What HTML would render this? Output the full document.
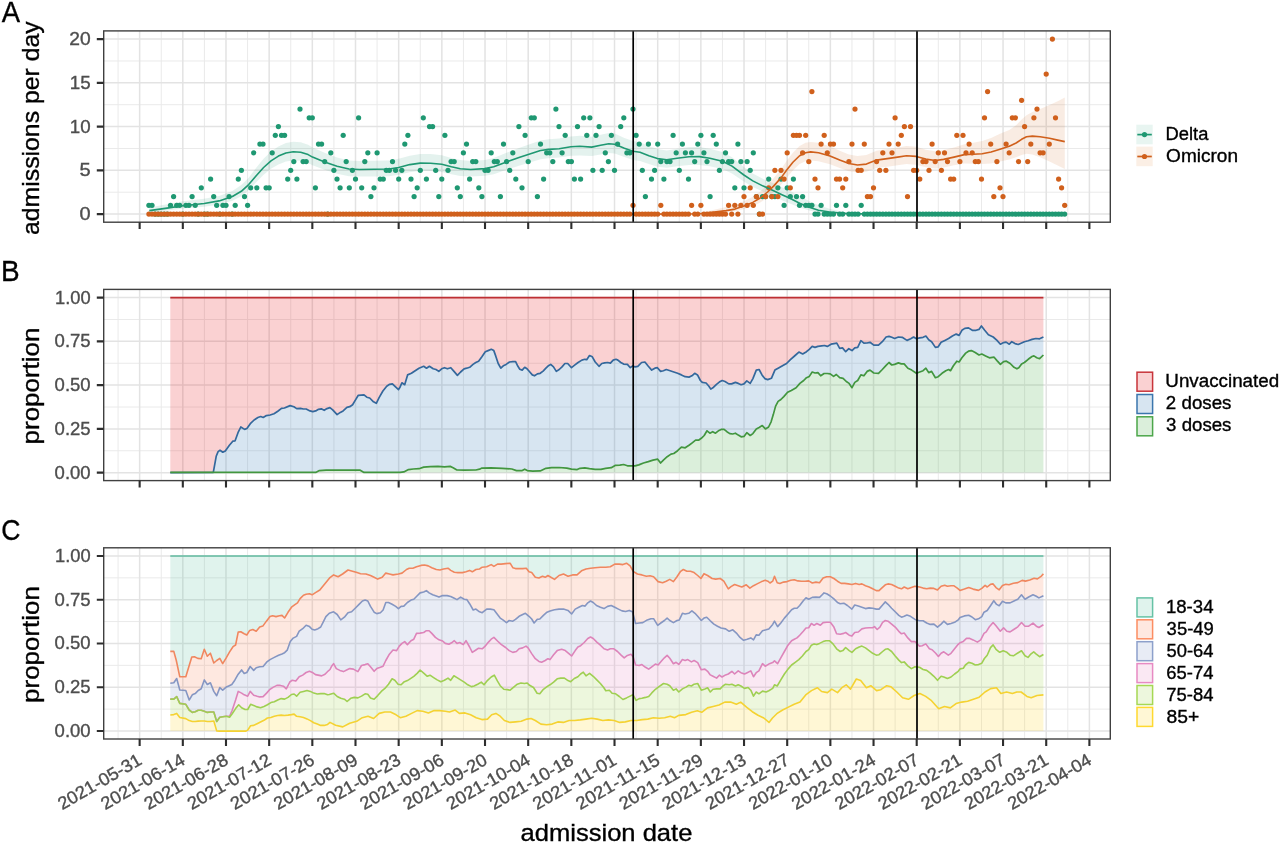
<!DOCTYPE html>
<html lang="en"><head><meta charset="utf-8"><title>Admissions by variant, vaccination status and age</title>
<style>html,body{margin:0;padding:0;background:#fff}body{width:1280px;height:844px;overflow:hidden}svg{display:block}text{stroke-width:.35px;paint-order:stroke fill}.tk text,text.tk{stroke:#4d4d4d}text.bk,.bk text{stroke:#000}</style>
</head><body>
<svg width="1280" height="844" viewBox="0 0 1280 844" font-family='"Liberation Sans", "DejaVu Sans", sans-serif'>
<rect width="1280" height="844" fill="#fff"/>
<g id="panelA">
<clipPath id="clipA"><rect x="103.7" y="30.9" width="1006.6" height="191.3"/></clipPath>
<path d="M118.06 30.9V222.2M161.24 30.9V222.2M204.41 30.9V222.2M247.58 30.9V222.2M290.75 30.9V222.2M333.92 30.9V222.2M377.09 30.9V222.2M420.25 30.9V222.2M463.43 30.9V222.2M506.6 30.9V222.2M549.76 30.9V222.2M592.94 30.9V222.2M636.11 30.9V222.2M679.27 30.9V222.2M722.45 30.9V222.2M765.62 30.9V222.2M808.78 30.9V222.2M851.96 30.9V222.2M895.12 30.9V222.2M938.29 30.9V222.2M981.47 30.9V222.2M1024.63 30.9V222.2M1067.81 30.9V222.2M103.7 192.22H1110.3M103.7 148.47H1110.3M103.7 104.72H1110.3M103.7 60.97H1110.3" stroke="#eaeaea" stroke-width="1" fill="none"/>
<path d="M139.65 30.9V222.2M182.82 30.9V222.2M225.99 30.9V222.2M269.16 30.9V222.2M312.33 30.9V222.2M355.5 30.9V222.2M398.67 30.9V222.2M441.84 30.9V222.2M485.01 30.9V222.2M528.18 30.9V222.2M571.35 30.9V222.2M614.52 30.9V222.2M657.69 30.9V222.2M700.86 30.9V222.2M744.03 30.9V222.2M787.2 30.9V222.2M830.37 30.9V222.2M873.54 30.9V222.2M916.71 30.9V222.2M959.88 30.9V222.2M1003.05 30.9V222.2M1046.22 30.9V222.2M1089.39 30.9V222.2M103.7 214.1H1110.3M103.7 170.35H1110.3M103.7 126.6H1110.3M103.7 82.85H1110.3M103.7 39.1H1110.3" stroke="#e3e3e3" stroke-width="1.5" fill="none"/>
<g clip-path="url(#clipA)">
<path d="M149.3 207.5L167.1 204.2L183 201.3L204.2 198.8L219.1 195.9L232.4 190.9L241.3 185.1L248.7 177.7L256.2 167.8L263.6 158.8L271 151.6L278.4 146.4L285.9 143.1L293.3 141.7L300.7 142.2L308.1 144.8L312.5 147.5L324.6 152.8L337.1 157.5L349 160.5L359.4 161L374.2 160.8L389.1 160.5L398.7 158.8L409.8 155.7L420.2 154L430.6 154.1L441.8 155.3L451.4 158.1L460.3 160.1L470.7 161L485 160L493.7 158.1L506.5 152.8L519 148L528.2 144.7L540.5 140.4L548.7 139.2L559.1 138.4L570.9 136.4L579.8 135.8L591.7 136.7L600.6 134.7L608.8 133.1L614.7 133.6L624.4 137.9L633 141.1L640 142.3L648.9 146L657.5 149.1L666.7 150.4L677.1 148.7L689 147.1L699.4 147L709.8 148.7L722.4 151.9L732 157.3L743.9 167L752.8 173.6L763.2 179L773.6 183.3L782.5 187.4L789.9 190.7L799.6 196.2L809.2 201.1L818.5 205.2L829.5 208.7L847.1 212.8L880 213.8L1064.8 214.1L1064.8 214.1L880 214.1L847.1 213.9L829.5 213.3L818.5 212.4L809.2 210.4L799.6 207.5L789.9 203.4L782.5 200.5L773.6 196.5L763.2 191.8L752.8 186.9L743.9 181.6L732 173.5L722.4 169.1L709.8 166.3L699.4 164.9L689 165L677.1 166.3L666.7 167.8L657.5 166.7L648.9 164L640 160.9L633 159.9L624.4 157.1L614.7 153.4L608.8 153.1L600.6 154.4L591.7 156.1L579.8 155.4L570.9 155.8L559.1 157.6L548.7 158.2L540.5 159.2L528.2 162.9L519 165.8L506.5 169.8L493.7 174.2L485 175.8L470.7 176.6L460.3 175.9L451.4 174.2L441.8 171.9L430.6 170.9L420.2 170.8L409.8 172.2L398.7 174.8L389.1 176.2L374.2 176.5L359.4 176.6L349 176.2L337.1 173.7L324.6 169.8L312.5 165.3L308.1 163L300.7 160.8L293.3 160.4L285.9 161.6L278.4 164.4L271 168.8L263.6 174.8L256.2 182.2L248.7 190.2L241.3 196.2L232.4 200.8L219.1 204.6L204.2 206.8L183 208.6L167.1 210.5L149.3 212.2Z" fill="#1f9872" fill-opacity="0.12"/>
<path d="M149.3 214.1L640 214.1L680 213.9L699.4 213.2L714.2 209.7L726.1 207.1L735 205.1L743.9 201.2L752.8 196.8L760.2 191.6L767.6 184.8L773.6 178.3L781 169.3L786.9 160.6L792.9 152.7L799.6 146L805.5 142.7L810.7 141.9L818.5 142.7L830 146.2L839.7 150.8L848.9 154.5L857.5 156.1L866.4 155.1L876.6 150.8L887.2 149.1L897.6 147.5L906.5 146L916.1 146.7L925.8 149.7L935.3 151.2L943.6 150L954 147.5L964.4 144.2L973.3 142.7L982.2 141.1L991.1 138.1L1000 133.8L1009.3 130L1016.1 125.2L1021.6 119.6L1026.5 115.2L1032.4 112L1040.1 109L1049.5 105L1057.7 101.3L1064.8 97.4L1064.8 169.1L1057.7 165.6L1049.5 161.4L1040.1 157.3L1032.4 154.5L1026.5 153.7L1021.6 154.9L1016.1 157.2L1009.3 159.4L1000 161.6L991.1 163.4L982.2 164.1L973.3 163.8L964.4 163.4L954 165.3L943.6 167.4L935.3 168.4L925.8 167.2L916.1 164.7L906.5 164L897.6 165.3L887.2 166.7L876.6 168.1L866.4 171.7L857.5 172.5L848.9 171.2L839.7 168.1L830 164.2L818.5 161.3L810.7 160.5L805.5 161.3L799.6 164.1L792.9 170.4L786.9 177.4L781 184.8L773.6 192.2L767.6 197.4L760.2 202.6L752.8 206.2L743.9 209.1L735 211.3L726.1 212.3L714.2 213.2L699.4 213.9L680 214.1L640 214.1L149.3 214.1Z" fill="#d0601c" fill-opacity="0.12"/>
<g fill="#1f9872">
<circle cx="148.9" cy="205.3" r="2.6"/>
<circle cx="152" cy="205.3" r="2.6"/>
<circle cx="155.1" cy="214.1" r="2.6"/>
<circle cx="158.2" cy="214.1" r="2.6"/>
<circle cx="161.2" cy="214.1" r="2.6"/>
<circle cx="164.3" cy="214.1" r="2.6"/>
<circle cx="167.4" cy="214.1" r="2.6"/>
<circle cx="170.5" cy="205.3" r="2.6"/>
<circle cx="173.6" cy="196.6" r="2.6"/>
<circle cx="176.7" cy="205.3" r="2.6"/>
<circle cx="179.7" cy="205.3" r="2.6"/>
<circle cx="182.8" cy="214.1" r="2.6"/>
<circle cx="185.9" cy="205.3" r="2.6"/>
<circle cx="189" cy="205.3" r="2.6"/>
<circle cx="192.1" cy="196.6" r="2.6"/>
<circle cx="195.2" cy="205.3" r="2.6"/>
<circle cx="198.2" cy="214.1" r="2.6"/>
<circle cx="201.3" cy="187.8" r="2.6"/>
<circle cx="204.4" cy="214.1" r="2.6"/>
<circle cx="207.5" cy="214.1" r="2.6"/>
<circle cx="210.6" cy="179.1" r="2.6"/>
<circle cx="213.7" cy="196.6" r="2.6"/>
<circle cx="216.7" cy="205.3" r="2.6"/>
<circle cx="219.8" cy="214.1" r="2.6"/>
<circle cx="222.9" cy="205.3" r="2.6"/>
<circle cx="226" cy="205.3" r="2.6"/>
<circle cx="229.1" cy="196.6" r="2.6"/>
<circle cx="232.2" cy="214.1" r="2.6"/>
<circle cx="235.2" cy="205.3" r="2.6"/>
<circle cx="238.3" cy="179.1" r="2.6"/>
<circle cx="241.4" cy="170.3" r="2.6"/>
<circle cx="244.5" cy="196.6" r="2.6"/>
<circle cx="247.6" cy="205.3" r="2.6"/>
<circle cx="250.7" cy="187.8" r="2.6"/>
<circle cx="253.7" cy="152.8" r="2.6"/>
<circle cx="256.8" cy="187.8" r="2.6"/>
<circle cx="259.9" cy="144.1" r="2.6"/>
<circle cx="263" cy="144.1" r="2.6"/>
<circle cx="266.1" cy="187.8" r="2.6"/>
<circle cx="269.2" cy="187.8" r="2.6"/>
<circle cx="272.2" cy="152.8" r="2.6"/>
<circle cx="275.3" cy="135.3" r="2.6"/>
<circle cx="278.4" cy="126.6" r="2.6"/>
<circle cx="281.5" cy="135.3" r="2.6"/>
<circle cx="284.6" cy="135.3" r="2.6"/>
<circle cx="287.7" cy="179.1" r="2.6"/>
<circle cx="290.7" cy="170.3" r="2.6"/>
<circle cx="293.8" cy="161.6" r="2.6"/>
<circle cx="296.9" cy="179.1" r="2.6"/>
<circle cx="300" cy="109.1" r="2.6"/>
<circle cx="303.1" cy="161.6" r="2.6"/>
<circle cx="306.2" cy="161.6" r="2.6"/>
<circle cx="309.2" cy="117.8" r="2.6"/>
<circle cx="312.3" cy="117.8" r="2.6"/>
<circle cx="315.4" cy="187.8" r="2.6"/>
<circle cx="318.5" cy="144.1" r="2.6"/>
<circle cx="321.6" cy="144.1" r="2.6"/>
<circle cx="324.7" cy="161.6" r="2.6"/>
<circle cx="327.7" cy="214.1" r="2.6"/>
<circle cx="330.8" cy="152.8" r="2.6"/>
<circle cx="333.9" cy="170.3" r="2.6"/>
<circle cx="337" cy="179.1" r="2.6"/>
<circle cx="340.1" cy="187.8" r="2.6"/>
<circle cx="343.2" cy="135.3" r="2.6"/>
<circle cx="346.2" cy="161.6" r="2.6"/>
<circle cx="349.3" cy="187.8" r="2.6"/>
<circle cx="352.4" cy="170.3" r="2.6"/>
<circle cx="355.5" cy="179.1" r="2.6"/>
<circle cx="358.6" cy="117.8" r="2.6"/>
<circle cx="361.7" cy="187.8" r="2.6"/>
<circle cx="364.8" cy="161.6" r="2.6"/>
<circle cx="367.8" cy="152.8" r="2.6"/>
<circle cx="370.9" cy="196.6" r="2.6"/>
<circle cx="374" cy="187.8" r="2.6"/>
<circle cx="377.1" cy="152.8" r="2.6"/>
<circle cx="380.2" cy="179.1" r="2.6"/>
<circle cx="383.3" cy="179.1" r="2.6"/>
<circle cx="386.3" cy="170.3" r="2.6"/>
<circle cx="389.4" cy="170.3" r="2.6"/>
<circle cx="392.5" cy="161.6" r="2.6"/>
<circle cx="395.6" cy="170.3" r="2.6"/>
<circle cx="398.7" cy="179.1" r="2.6"/>
<circle cx="401.8" cy="170.3" r="2.6"/>
<circle cx="404.8" cy="144.1" r="2.6"/>
<circle cx="407.9" cy="135.3" r="2.6"/>
<circle cx="411" cy="179.1" r="2.6"/>
<circle cx="414.1" cy="196.6" r="2.6"/>
<circle cx="417.2" cy="187.8" r="2.6"/>
<circle cx="420.3" cy="170.3" r="2.6"/>
<circle cx="423.3" cy="117.8" r="2.6"/>
<circle cx="426.4" cy="179.1" r="2.6"/>
<circle cx="429.5" cy="126.6" r="2.6"/>
<circle cx="432.6" cy="126.6" r="2.6"/>
<circle cx="435.7" cy="170.3" r="2.6"/>
<circle cx="438.8" cy="196.6" r="2.6"/>
<circle cx="441.8" cy="179.1" r="2.6"/>
<circle cx="444.9" cy="135.3" r="2.6"/>
<circle cx="448" cy="170.3" r="2.6"/>
<circle cx="451.1" cy="161.6" r="2.6"/>
<circle cx="454.2" cy="161.6" r="2.6"/>
<circle cx="457.3" cy="187.8" r="2.6"/>
<circle cx="460.3" cy="196.6" r="2.6"/>
<circle cx="463.4" cy="152.8" r="2.6"/>
<circle cx="466.5" cy="144.1" r="2.6"/>
<circle cx="469.6" cy="179.1" r="2.6"/>
<circle cx="472.7" cy="161.6" r="2.6"/>
<circle cx="475.8" cy="161.6" r="2.6"/>
<circle cx="478.8" cy="187.8" r="2.6"/>
<circle cx="481.9" cy="196.6" r="2.6"/>
<circle cx="485" cy="170.3" r="2.6"/>
<circle cx="488.1" cy="170.3" r="2.6"/>
<circle cx="491.2" cy="152.8" r="2.6"/>
<circle cx="494.3" cy="161.6" r="2.6"/>
<circle cx="497.3" cy="161.6" r="2.6"/>
<circle cx="500.4" cy="196.6" r="2.6"/>
<circle cx="503.5" cy="144.1" r="2.6"/>
<circle cx="506.6" cy="161.6" r="2.6"/>
<circle cx="509.7" cy="170.3" r="2.6"/>
<circle cx="512.8" cy="152.8" r="2.6"/>
<circle cx="515.8" cy="179.1" r="2.6"/>
<circle cx="518.9" cy="126.6" r="2.6"/>
<circle cx="522" cy="187.8" r="2.6"/>
<circle cx="525.1" cy="135.3" r="2.6"/>
<circle cx="528.2" cy="161.6" r="2.6"/>
<circle cx="531.3" cy="117.8" r="2.6"/>
<circle cx="534.3" cy="117.8" r="2.6"/>
<circle cx="537.4" cy="196.6" r="2.6"/>
<circle cx="540.5" cy="144.1" r="2.6"/>
<circle cx="543.6" cy="179.1" r="2.6"/>
<circle cx="546.7" cy="152.8" r="2.6"/>
<circle cx="549.8" cy="152.8" r="2.6"/>
<circle cx="552.8" cy="161.6" r="2.6"/>
<circle cx="555.9" cy="109.1" r="2.6"/>
<circle cx="559" cy="126.6" r="2.6"/>
<circle cx="562.1" cy="152.8" r="2.6"/>
<circle cx="565.2" cy="135.3" r="2.6"/>
<circle cx="568.3" cy="161.6" r="2.6"/>
<circle cx="571.4" cy="161.6" r="2.6"/>
<circle cx="574.4" cy="179.1" r="2.6"/>
<circle cx="577.5" cy="126.6" r="2.6"/>
<circle cx="580.6" cy="179.1" r="2.6"/>
<circle cx="583.7" cy="117.8" r="2.6"/>
<circle cx="586.8" cy="135.3" r="2.6"/>
<circle cx="589.9" cy="117.8" r="2.6"/>
<circle cx="592.9" cy="170.3" r="2.6"/>
<circle cx="596" cy="135.3" r="2.6"/>
<circle cx="599.1" cy="126.6" r="2.6"/>
<circle cx="602.2" cy="170.3" r="2.6"/>
<circle cx="605.3" cy="152.8" r="2.6"/>
<circle cx="608.4" cy="161.6" r="2.6"/>
<circle cx="611.4" cy="135.3" r="2.6"/>
<circle cx="614.5" cy="170.3" r="2.6"/>
<circle cx="617.6" cy="144.1" r="2.6"/>
<circle cx="620.7" cy="126.6" r="2.6"/>
<circle cx="623.8" cy="117.8" r="2.6"/>
<circle cx="626.9" cy="152.8" r="2.6"/>
<circle cx="629.9" cy="152.8" r="2.6"/>
<circle cx="633" cy="109.1" r="2.6"/>
<circle cx="636.1" cy="135.3" r="2.6"/>
<circle cx="639.2" cy="144.1" r="2.6"/>
<circle cx="642.3" cy="170.3" r="2.6"/>
<circle cx="645.4" cy="196.6" r="2.6"/>
<circle cx="648.4" cy="144.1" r="2.6"/>
<circle cx="651.5" cy="179.1" r="2.6"/>
<circle cx="654.6" cy="170.3" r="2.6"/>
<circle cx="657.7" cy="144.1" r="2.6"/>
<circle cx="660.8" cy="161.6" r="2.6"/>
<circle cx="663.9" cy="179.1" r="2.6"/>
<circle cx="666.9" cy="161.6" r="2.6"/>
<circle cx="670" cy="161.6" r="2.6"/>
<circle cx="673.1" cy="135.3" r="2.6"/>
<circle cx="676.2" cy="152.8" r="2.6"/>
<circle cx="679.3" cy="170.3" r="2.6"/>
<circle cx="682.4" cy="144.1" r="2.6"/>
<circle cx="685.4" cy="152.8" r="2.6"/>
<circle cx="688.5" cy="179.1" r="2.6"/>
<circle cx="691.6" cy="152.8" r="2.6"/>
<circle cx="694.7" cy="161.6" r="2.6"/>
<circle cx="697.8" cy="144.1" r="2.6"/>
<circle cx="700.9" cy="135.3" r="2.6"/>
<circle cx="703.9" cy="152.8" r="2.6"/>
<circle cx="707" cy="161.6" r="2.6"/>
<circle cx="710.1" cy="196.6" r="2.6"/>
<circle cx="713.2" cy="135.3" r="2.6"/>
<circle cx="716.3" cy="144.1" r="2.6"/>
<circle cx="719.4" cy="170.3" r="2.6"/>
<circle cx="722.4" cy="161.6" r="2.6"/>
<circle cx="725.5" cy="152.8" r="2.6"/>
<circle cx="728.6" cy="161.6" r="2.6"/>
<circle cx="731.7" cy="161.6" r="2.6"/>
<circle cx="734.8" cy="187.8" r="2.6"/>
<circle cx="737.9" cy="144.1" r="2.6"/>
<circle cx="740.9" cy="161.6" r="2.6"/>
<circle cx="744" cy="187.8" r="2.6"/>
<circle cx="747.1" cy="161.6" r="2.6"/>
<circle cx="750.2" cy="170.3" r="2.6"/>
<circle cx="753.3" cy="152.8" r="2.6"/>
<circle cx="756.4" cy="196.6" r="2.6"/>
<circle cx="759.4" cy="214.1" r="2.6"/>
<circle cx="762.5" cy="196.6" r="2.6"/>
<circle cx="765.6" cy="196.6" r="2.6"/>
<circle cx="768.7" cy="179.1" r="2.6"/>
<circle cx="771.8" cy="196.6" r="2.6"/>
<circle cx="774.9" cy="196.6" r="2.6"/>
<circle cx="777.9" cy="187.8" r="2.6"/>
<circle cx="781" cy="179.1" r="2.6"/>
<circle cx="784.1" cy="205.3" r="2.6"/>
<circle cx="787.2" cy="187.8" r="2.6"/>
<circle cx="790.3" cy="196.6" r="2.6"/>
<circle cx="793.4" cy="179.1" r="2.6"/>
<circle cx="796.5" cy="196.6" r="2.6"/>
<circle cx="799.5" cy="205.3" r="2.6"/>
<circle cx="802.6" cy="196.6" r="2.6"/>
<circle cx="805.7" cy="205.3" r="2.6"/>
<circle cx="808.8" cy="205.3" r="2.6"/>
<circle cx="811.9" cy="205.3" r="2.6"/>
<circle cx="815" cy="214.1" r="2.6"/>
<circle cx="818" cy="214.1" r="2.6"/>
<circle cx="821.1" cy="205.3" r="2.6"/>
<circle cx="824.2" cy="214.1" r="2.6"/>
<circle cx="827.3" cy="214.1" r="2.6"/>
<circle cx="830.4" cy="214.1" r="2.6"/>
<circle cx="833.5" cy="214.1" r="2.6"/>
<circle cx="836.5" cy="205.3" r="2.6"/>
<circle cx="839.6" cy="214.1" r="2.6"/>
<circle cx="842.7" cy="214.1" r="2.6"/>
<circle cx="845.8" cy="205.3" r="2.6"/>
<circle cx="848.9" cy="214.1" r="2.6"/>
<circle cx="852" cy="214.1" r="2.6"/>
<circle cx="855" cy="214.1" r="2.6"/>
<circle cx="858.1" cy="214.1" r="2.6"/>
<circle cx="861.2" cy="205.3" r="2.6"/>
<circle cx="864.3" cy="214.1" r="2.6"/>
<circle cx="867.4" cy="214.1" r="2.6"/>
<circle cx="870.5" cy="214.1" r="2.6"/>
<circle cx="873.5" cy="214.1" r="2.6"/>
<circle cx="876.6" cy="214.1" r="2.6"/>
<circle cx="879.7" cy="214.1" r="2.6"/>
<circle cx="882.8" cy="214.1" r="2.6"/>
<circle cx="885.9" cy="214.1" r="2.6"/>
<circle cx="889" cy="214.1" r="2.6"/>
<circle cx="892" cy="214.1" r="2.6"/>
<circle cx="895.1" cy="214.1" r="2.6"/>
<circle cx="898.2" cy="214.1" r="2.6"/>
<circle cx="901.3" cy="214.1" r="2.6"/>
<circle cx="904.4" cy="214.1" r="2.6"/>
<circle cx="907.5" cy="214.1" r="2.6"/>
<circle cx="910.5" cy="214.1" r="2.6"/>
<circle cx="913.6" cy="214.1" r="2.6"/>
<circle cx="916.7" cy="214.1" r="2.6"/>
<circle cx="919.8" cy="214.1" r="2.6"/>
<circle cx="922.9" cy="214.1" r="2.6"/>
<circle cx="926" cy="214.1" r="2.6"/>
<circle cx="929" cy="214.1" r="2.6"/>
<circle cx="932.1" cy="214.1" r="2.6"/>
<circle cx="935.2" cy="214.1" r="2.6"/>
<circle cx="938.3" cy="214.1" r="2.6"/>
<circle cx="941.4" cy="214.1" r="2.6"/>
<circle cx="944.5" cy="214.1" r="2.6"/>
<circle cx="947.5" cy="214.1" r="2.6"/>
<circle cx="950.6" cy="214.1" r="2.6"/>
<circle cx="953.7" cy="214.1" r="2.6"/>
<circle cx="956.8" cy="214.1" r="2.6"/>
<circle cx="959.9" cy="214.1" r="2.6"/>
<circle cx="963" cy="214.1" r="2.6"/>
<circle cx="966" cy="214.1" r="2.6"/>
<circle cx="969.1" cy="214.1" r="2.6"/>
<circle cx="972.2" cy="214.1" r="2.6"/>
<circle cx="975.3" cy="214.1" r="2.6"/>
<circle cx="978.4" cy="214.1" r="2.6"/>
<circle cx="981.5" cy="214.1" r="2.6"/>
<circle cx="984.5" cy="214.1" r="2.6"/>
<circle cx="987.6" cy="214.1" r="2.6"/>
<circle cx="990.7" cy="214.1" r="2.6"/>
<circle cx="993.8" cy="214.1" r="2.6"/>
<circle cx="996.9" cy="214.1" r="2.6"/>
<circle cx="1000" cy="214.1" r="2.6"/>
<circle cx="1003" cy="214.1" r="2.6"/>
<circle cx="1006.1" cy="214.1" r="2.6"/>
<circle cx="1009.2" cy="214.1" r="2.6"/>
<circle cx="1012.3" cy="214.1" r="2.6"/>
<circle cx="1015.4" cy="214.1" r="2.6"/>
<circle cx="1018.5" cy="214.1" r="2.6"/>
<circle cx="1021.6" cy="214.1" r="2.6"/>
<circle cx="1024.6" cy="214.1" r="2.6"/>
<circle cx="1027.7" cy="214.1" r="2.6"/>
<circle cx="1030.8" cy="214.1" r="2.6"/>
<circle cx="1033.9" cy="214.1" r="2.6"/>
<circle cx="1037" cy="214.1" r="2.6"/>
<circle cx="1040.1" cy="214.1" r="2.6"/>
<circle cx="1043.1" cy="214.1" r="2.6"/>
<circle cx="1046.2" cy="214.1" r="2.6"/>
<circle cx="1049.3" cy="214.1" r="2.6"/>
<circle cx="1052.4" cy="214.1" r="2.6"/>
<circle cx="1055.5" cy="214.1" r="2.6"/>
<circle cx="1058.6" cy="214.1" r="2.6"/>
<circle cx="1061.6" cy="214.1" r="2.6"/>
<circle cx="1064.7" cy="214.1" r="2.6"/>
</g>
<g fill="#d0601c">
<circle cx="148.9" cy="214.1" r="2.6"/>
<circle cx="152" cy="214.1" r="2.6"/>
<circle cx="155.1" cy="214.1" r="2.6"/>
<circle cx="158.2" cy="214.1" r="2.6"/>
<circle cx="161.2" cy="214.1" r="2.6"/>
<circle cx="164.3" cy="214.1" r="2.6"/>
<circle cx="167.4" cy="214.1" r="2.6"/>
<circle cx="170.5" cy="214.1" r="2.6"/>
<circle cx="173.6" cy="214.1" r="2.6"/>
<circle cx="176.7" cy="214.1" r="2.6"/>
<circle cx="179.7" cy="214.1" r="2.6"/>
<circle cx="182.8" cy="214.1" r="2.6"/>
<circle cx="185.9" cy="214.1" r="2.6"/>
<circle cx="189" cy="214.1" r="2.6"/>
<circle cx="192.1" cy="214.1" r="2.6"/>
<circle cx="195.2" cy="214.1" r="2.6"/>
<circle cx="198.2" cy="214.1" r="2.6"/>
<circle cx="201.3" cy="214.1" r="2.6"/>
<circle cx="204.4" cy="214.1" r="2.6"/>
<circle cx="207.5" cy="214.1" r="2.6"/>
<circle cx="210.6" cy="214.1" r="2.6"/>
<circle cx="213.7" cy="214.1" r="2.6"/>
<circle cx="216.7" cy="214.1" r="2.6"/>
<circle cx="219.8" cy="214.1" r="2.6"/>
<circle cx="222.9" cy="214.1" r="2.6"/>
<circle cx="226" cy="214.1" r="2.6"/>
<circle cx="229.1" cy="214.1" r="2.6"/>
<circle cx="232.2" cy="214.1" r="2.6"/>
<circle cx="235.2" cy="214.1" r="2.6"/>
<circle cx="238.3" cy="214.1" r="2.6"/>
<circle cx="241.4" cy="214.1" r="2.6"/>
<circle cx="244.5" cy="214.1" r="2.6"/>
<circle cx="247.6" cy="214.1" r="2.6"/>
<circle cx="250.7" cy="214.1" r="2.6"/>
<circle cx="253.7" cy="214.1" r="2.6"/>
<circle cx="256.8" cy="214.1" r="2.6"/>
<circle cx="259.9" cy="214.1" r="2.6"/>
<circle cx="263" cy="214.1" r="2.6"/>
<circle cx="266.1" cy="214.1" r="2.6"/>
<circle cx="269.2" cy="214.1" r="2.6"/>
<circle cx="272.2" cy="214.1" r="2.6"/>
<circle cx="275.3" cy="214.1" r="2.6"/>
<circle cx="278.4" cy="214.1" r="2.6"/>
<circle cx="281.5" cy="214.1" r="2.6"/>
<circle cx="284.6" cy="214.1" r="2.6"/>
<circle cx="287.7" cy="214.1" r="2.6"/>
<circle cx="290.7" cy="214.1" r="2.6"/>
<circle cx="293.8" cy="214.1" r="2.6"/>
<circle cx="296.9" cy="214.1" r="2.6"/>
<circle cx="300" cy="214.1" r="2.6"/>
<circle cx="303.1" cy="214.1" r="2.6"/>
<circle cx="306.2" cy="214.1" r="2.6"/>
<circle cx="309.2" cy="214.1" r="2.6"/>
<circle cx="312.3" cy="214.1" r="2.6"/>
<circle cx="315.4" cy="214.1" r="2.6"/>
<circle cx="318.5" cy="214.1" r="2.6"/>
<circle cx="321.6" cy="214.1" r="2.6"/>
<circle cx="324.7" cy="214.1" r="2.6"/>
<circle cx="327.7" cy="214.1" r="2.6"/>
<circle cx="330.8" cy="214.1" r="2.6"/>
<circle cx="333.9" cy="214.1" r="2.6"/>
<circle cx="337" cy="214.1" r="2.6"/>
<circle cx="340.1" cy="214.1" r="2.6"/>
<circle cx="343.2" cy="214.1" r="2.6"/>
<circle cx="346.2" cy="214.1" r="2.6"/>
<circle cx="349.3" cy="214.1" r="2.6"/>
<circle cx="352.4" cy="214.1" r="2.6"/>
<circle cx="355.5" cy="214.1" r="2.6"/>
<circle cx="358.6" cy="214.1" r="2.6"/>
<circle cx="361.7" cy="214.1" r="2.6"/>
<circle cx="364.8" cy="214.1" r="2.6"/>
<circle cx="367.8" cy="214.1" r="2.6"/>
<circle cx="370.9" cy="214.1" r="2.6"/>
<circle cx="374" cy="214.1" r="2.6"/>
<circle cx="377.1" cy="214.1" r="2.6"/>
<circle cx="380.2" cy="214.1" r="2.6"/>
<circle cx="383.3" cy="214.1" r="2.6"/>
<circle cx="386.3" cy="214.1" r="2.6"/>
<circle cx="389.4" cy="214.1" r="2.6"/>
<circle cx="392.5" cy="214.1" r="2.6"/>
<circle cx="395.6" cy="214.1" r="2.6"/>
<circle cx="398.7" cy="214.1" r="2.6"/>
<circle cx="401.8" cy="214.1" r="2.6"/>
<circle cx="404.8" cy="214.1" r="2.6"/>
<circle cx="407.9" cy="214.1" r="2.6"/>
<circle cx="411" cy="214.1" r="2.6"/>
<circle cx="414.1" cy="214.1" r="2.6"/>
<circle cx="417.2" cy="214.1" r="2.6"/>
<circle cx="420.3" cy="214.1" r="2.6"/>
<circle cx="423.3" cy="214.1" r="2.6"/>
<circle cx="426.4" cy="214.1" r="2.6"/>
<circle cx="429.5" cy="214.1" r="2.6"/>
<circle cx="432.6" cy="214.1" r="2.6"/>
<circle cx="435.7" cy="214.1" r="2.6"/>
<circle cx="438.8" cy="214.1" r="2.6"/>
<circle cx="441.8" cy="214.1" r="2.6"/>
<circle cx="444.9" cy="214.1" r="2.6"/>
<circle cx="448" cy="214.1" r="2.6"/>
<circle cx="451.1" cy="214.1" r="2.6"/>
<circle cx="454.2" cy="214.1" r="2.6"/>
<circle cx="457.3" cy="214.1" r="2.6"/>
<circle cx="460.3" cy="214.1" r="2.6"/>
<circle cx="463.4" cy="214.1" r="2.6"/>
<circle cx="466.5" cy="214.1" r="2.6"/>
<circle cx="469.6" cy="214.1" r="2.6"/>
<circle cx="472.7" cy="214.1" r="2.6"/>
<circle cx="475.8" cy="214.1" r="2.6"/>
<circle cx="478.8" cy="214.1" r="2.6"/>
<circle cx="481.9" cy="214.1" r="2.6"/>
<circle cx="485" cy="214.1" r="2.6"/>
<circle cx="488.1" cy="214.1" r="2.6"/>
<circle cx="491.2" cy="214.1" r="2.6"/>
<circle cx="494.3" cy="214.1" r="2.6"/>
<circle cx="497.3" cy="214.1" r="2.6"/>
<circle cx="500.4" cy="214.1" r="2.6"/>
<circle cx="503.5" cy="214.1" r="2.6"/>
<circle cx="506.6" cy="214.1" r="2.6"/>
<circle cx="509.7" cy="214.1" r="2.6"/>
<circle cx="512.8" cy="214.1" r="2.6"/>
<circle cx="515.8" cy="214.1" r="2.6"/>
<circle cx="518.9" cy="214.1" r="2.6"/>
<circle cx="522" cy="214.1" r="2.6"/>
<circle cx="525.1" cy="214.1" r="2.6"/>
<circle cx="528.2" cy="214.1" r="2.6"/>
<circle cx="531.3" cy="214.1" r="2.6"/>
<circle cx="534.3" cy="214.1" r="2.6"/>
<circle cx="537.4" cy="214.1" r="2.6"/>
<circle cx="540.5" cy="214.1" r="2.6"/>
<circle cx="543.6" cy="214.1" r="2.6"/>
<circle cx="546.7" cy="214.1" r="2.6"/>
<circle cx="549.8" cy="214.1" r="2.6"/>
<circle cx="552.8" cy="214.1" r="2.6"/>
<circle cx="555.9" cy="214.1" r="2.6"/>
<circle cx="559" cy="214.1" r="2.6"/>
<circle cx="562.1" cy="214.1" r="2.6"/>
<circle cx="565.2" cy="214.1" r="2.6"/>
<circle cx="568.3" cy="214.1" r="2.6"/>
<circle cx="571.4" cy="214.1" r="2.6"/>
<circle cx="574.4" cy="214.1" r="2.6"/>
<circle cx="577.5" cy="214.1" r="2.6"/>
<circle cx="580.6" cy="214.1" r="2.6"/>
<circle cx="583.7" cy="214.1" r="2.6"/>
<circle cx="586.8" cy="214.1" r="2.6"/>
<circle cx="589.9" cy="214.1" r="2.6"/>
<circle cx="592.9" cy="214.1" r="2.6"/>
<circle cx="596" cy="214.1" r="2.6"/>
<circle cx="599.1" cy="214.1" r="2.6"/>
<circle cx="602.2" cy="214.1" r="2.6"/>
<circle cx="605.3" cy="214.1" r="2.6"/>
<circle cx="608.4" cy="214.1" r="2.6"/>
<circle cx="611.4" cy="214.1" r="2.6"/>
<circle cx="614.5" cy="214.1" r="2.6"/>
<circle cx="617.6" cy="214.1" r="2.6"/>
<circle cx="620.7" cy="214.1" r="2.6"/>
<circle cx="623.8" cy="214.1" r="2.6"/>
<circle cx="626.9" cy="214.1" r="2.6"/>
<circle cx="629.9" cy="214.1" r="2.6"/>
<circle cx="633" cy="205.3" r="2.6"/>
<circle cx="636.1" cy="214.1" r="2.6"/>
<circle cx="639.2" cy="214.1" r="2.6"/>
<circle cx="642.3" cy="214.1" r="2.6"/>
<circle cx="645.4" cy="214.1" r="2.6"/>
<circle cx="648.4" cy="214.1" r="2.6"/>
<circle cx="651.5" cy="214.1" r="2.6"/>
<circle cx="654.6" cy="214.1" r="2.6"/>
<circle cx="657.7" cy="214.1" r="2.6"/>
<circle cx="660.8" cy="205.3" r="2.6"/>
<circle cx="663.9" cy="214.1" r="2.6"/>
<circle cx="666.9" cy="214.1" r="2.6"/>
<circle cx="670" cy="214.1" r="2.6"/>
<circle cx="673.1" cy="214.1" r="2.6"/>
<circle cx="676.2" cy="214.1" r="2.6"/>
<circle cx="679.3" cy="214.1" r="2.6"/>
<circle cx="682.4" cy="214.1" r="2.6"/>
<circle cx="685.4" cy="214.1" r="2.6"/>
<circle cx="688.5" cy="214.1" r="2.6"/>
<circle cx="691.6" cy="205.3" r="2.6"/>
<circle cx="694.7" cy="214.1" r="2.6"/>
<circle cx="697.8" cy="214.1" r="2.6"/>
<circle cx="700.9" cy="205.3" r="2.6"/>
<circle cx="703.9" cy="214.1" r="2.6"/>
<circle cx="707" cy="214.1" r="2.6"/>
<circle cx="710.1" cy="214.1" r="2.6"/>
<circle cx="713.2" cy="214.1" r="2.6"/>
<circle cx="716.3" cy="214.1" r="2.6"/>
<circle cx="719.4" cy="214.1" r="2.6"/>
<circle cx="722.4" cy="214.1" r="2.6"/>
<circle cx="725.5" cy="214.1" r="2.6"/>
<circle cx="728.6" cy="205.3" r="2.6"/>
<circle cx="731.7" cy="214.1" r="2.6"/>
<circle cx="734.8" cy="205.3" r="2.6"/>
<circle cx="737.9" cy="214.1" r="2.6"/>
<circle cx="740.9" cy="205.3" r="2.6"/>
<circle cx="744" cy="196.6" r="2.6"/>
<circle cx="747.1" cy="205.3" r="2.6"/>
<circle cx="750.2" cy="187.8" r="2.6"/>
<circle cx="753.3" cy="205.3" r="2.6"/>
<circle cx="756.4" cy="196.6" r="2.6"/>
<circle cx="759.4" cy="214.1" r="2.6"/>
<circle cx="762.5" cy="214.1" r="2.6"/>
<circle cx="765.6" cy="196.6" r="2.6"/>
<circle cx="768.7" cy="187.8" r="2.6"/>
<circle cx="771.8" cy="196.6" r="2.6"/>
<circle cx="774.9" cy="170.3" r="2.6"/>
<circle cx="777.9" cy="196.6" r="2.6"/>
<circle cx="781" cy="170.3" r="2.6"/>
<circle cx="784.1" cy="179.1" r="2.6"/>
<circle cx="787.2" cy="152.8" r="2.6"/>
<circle cx="790.3" cy="187.8" r="2.6"/>
<circle cx="793.4" cy="135.3" r="2.6"/>
<circle cx="796.5" cy="135.3" r="2.6"/>
<circle cx="799.5" cy="135.3" r="2.6"/>
<circle cx="802.6" cy="152.8" r="2.6"/>
<circle cx="805.7" cy="135.3" r="2.6"/>
<circle cx="808.8" cy="161.6" r="2.6"/>
<circle cx="811.9" cy="91.6" r="2.6"/>
<circle cx="815" cy="179.1" r="2.6"/>
<circle cx="818" cy="187.8" r="2.6"/>
<circle cx="821.1" cy="144.1" r="2.6"/>
<circle cx="824.2" cy="135.3" r="2.6"/>
<circle cx="827.3" cy="152.8" r="2.6"/>
<circle cx="830.4" cy="144.1" r="2.6"/>
<circle cx="833.5" cy="144.1" r="2.6"/>
<circle cx="836.5" cy="179.1" r="2.6"/>
<circle cx="839.6" cy="179.1" r="2.6"/>
<circle cx="842.7" cy="187.8" r="2.6"/>
<circle cx="845.8" cy="179.1" r="2.6"/>
<circle cx="848.9" cy="161.6" r="2.6"/>
<circle cx="852" cy="144.1" r="2.6"/>
<circle cx="855" cy="109.1" r="2.6"/>
<circle cx="858.1" cy="170.3" r="2.6"/>
<circle cx="861.2" cy="170.3" r="2.6"/>
<circle cx="864.3" cy="144.1" r="2.6"/>
<circle cx="867.4" cy="196.6" r="2.6"/>
<circle cx="870.5" cy="196.6" r="2.6"/>
<circle cx="873.5" cy="187.8" r="2.6"/>
<circle cx="876.6" cy="161.6" r="2.6"/>
<circle cx="879.7" cy="170.3" r="2.6"/>
<circle cx="882.8" cy="152.8" r="2.6"/>
<circle cx="885.9" cy="170.3" r="2.6"/>
<circle cx="889" cy="144.1" r="2.6"/>
<circle cx="892" cy="152.8" r="2.6"/>
<circle cx="895.1" cy="117.8" r="2.6"/>
<circle cx="898.2" cy="144.1" r="2.6"/>
<circle cx="901.3" cy="135.3" r="2.6"/>
<circle cx="904.4" cy="126.6" r="2.6"/>
<circle cx="907.5" cy="196.6" r="2.6"/>
<circle cx="910.5" cy="126.6" r="2.6"/>
<circle cx="913.6" cy="170.3" r="2.6"/>
<circle cx="916.7" cy="170.3" r="2.6"/>
<circle cx="919.8" cy="179.1" r="2.6"/>
<circle cx="922.9" cy="161.6" r="2.6"/>
<circle cx="926" cy="161.6" r="2.6"/>
<circle cx="929" cy="170.3" r="2.6"/>
<circle cx="932.1" cy="144.1" r="2.6"/>
<circle cx="935.2" cy="161.6" r="2.6"/>
<circle cx="938.3" cy="152.8" r="2.6"/>
<circle cx="941.4" cy="170.3" r="2.6"/>
<circle cx="944.5" cy="152.8" r="2.6"/>
<circle cx="947.5" cy="161.6" r="2.6"/>
<circle cx="950.6" cy="179.1" r="2.6"/>
<circle cx="953.7" cy="179.1" r="2.6"/>
<circle cx="956.8" cy="135.3" r="2.6"/>
<circle cx="959.9" cy="161.6" r="2.6"/>
<circle cx="963" cy="135.3" r="2.6"/>
<circle cx="966" cy="152.8" r="2.6"/>
<circle cx="969.1" cy="144.1" r="2.6"/>
<circle cx="972.2" cy="152.8" r="2.6"/>
<circle cx="975.3" cy="161.6" r="2.6"/>
<circle cx="978.4" cy="161.6" r="2.6"/>
<circle cx="981.5" cy="179.1" r="2.6"/>
<circle cx="984.5" cy="117.8" r="2.6"/>
<circle cx="987.6" cy="91.6" r="2.6"/>
<circle cx="990.7" cy="144.1" r="2.6"/>
<circle cx="993.8" cy="196.6" r="2.6"/>
<circle cx="996.9" cy="161.6" r="2.6"/>
<circle cx="1000" cy="187.8" r="2.6"/>
<circle cx="1003" cy="196.6" r="2.6"/>
<circle cx="1006.1" cy="144.1" r="2.6"/>
<circle cx="1009.2" cy="152.8" r="2.6"/>
<circle cx="1012.3" cy="117.8" r="2.6"/>
<circle cx="1015.4" cy="117.8" r="2.6"/>
<circle cx="1018.5" cy="161.6" r="2.6"/>
<circle cx="1021.6" cy="100.3" r="2.6"/>
<circle cx="1024.6" cy="126.6" r="2.6"/>
<circle cx="1027.7" cy="161.6" r="2.6"/>
<circle cx="1030.8" cy="144.1" r="2.6"/>
<circle cx="1033.9" cy="117.8" r="2.6"/>
<circle cx="1037" cy="109.1" r="2.6"/>
<circle cx="1040.1" cy="152.8" r="2.6"/>
<circle cx="1043.1" cy="152.8" r="2.6"/>
<circle cx="1046.2" cy="74.1" r="2.6"/>
<circle cx="1049.3" cy="144.1" r="2.6"/>
<circle cx="1052.4" cy="39.1" r="2.6"/>
<circle cx="1055.5" cy="117.8" r="2.6"/>
<circle cx="1058.6" cy="179.1" r="2.6"/>
<circle cx="1061.6" cy="187.8" r="2.6"/>
<circle cx="1064.7" cy="205.3" r="2.6"/>
</g>
<path d="M149.3 210.6L167.1 208.1L183 205.7L204.2 203.5L219.1 200.9L232.4 196.5L241.3 191.3L248.7 184.6L256.2 175.7L263.6 167.5L271 160.9L278.4 156.1L285.9 153L293.3 151.7L300.7 152.2L308.1 154.6L312.5 157.1L324.6 162L337.1 166.3L349 169L359.4 169.5L374.2 169.3L389.1 169L398.7 167.5L409.8 164.6L420.2 163.1L430.6 163.2L441.8 164.3L451.4 166.8L460.3 168.7L470.7 169.5L485 168.6L493.7 166.8L506.5 162L519 157.6L528.2 154.5L540.5 150.5L548.7 149.4L559.1 148.7L570.9 146.8L579.8 146.3L591.7 147.1L600.6 145.3L608.8 143.8L614.7 144.2L624.4 148.2L633 151.2L640 152.3L648.9 155.7L657.5 158.6L666.7 159.8L677.1 158.2L689 156.7L699.4 156.6L709.8 158.2L722.4 161.2L732 166.1L743.9 175L752.8 180.9L763.2 186.1L773.6 190.8L782.5 195L789.9 198.3L799.6 203.2L809.2 207.2L818.5 210.2L829.5 212L847.1 213.6L880 214L1064.8 214.1" fill="none" stroke="#1f9872" stroke-width="1.6" stroke-linejoin="round"/>
<path d="M149.3 214.1L640 214.1L680 214L699.4 213.7L714.2 212.1L726.1 210.6L735 209.1L743.9 206.1L752.8 202.4L760.2 198L767.6 192L773.6 186.1L781 177.9L786.9 169.8L792.9 162.3L799.6 155.7L805.5 152.7L810.7 151.9L818.5 152.7L830 155.9L839.7 160.1L848.9 163.5L857.5 165L866.4 164.1L876.6 160.1L887.2 158.6L897.6 157.1L906.5 155.7L916.1 156.4L925.8 159.1L935.3 160.5L943.6 159.4L954 157.1L964.4 154.6L973.3 154.2L982.2 153.7L991.1 152L1000 149.2L1009.3 146.3L1016.1 143L1021.6 139.3L1026.5 136.8L1032.4 136.1L1040.1 136.8L1049.5 138.3L1057.7 140.1L1064.8 141.6" fill="none" stroke="#d0601c" stroke-width="1.6" stroke-linejoin="round"/>
</g>
<line x1="633.2" x2="633.2" y1="30.9" y2="222.2" stroke="#000" stroke-width="1.7"/>
<line x1="917.0" x2="917.0" y1="30.9" y2="222.2" stroke="#000" stroke-width="1.7"/>
<rect x="103.7" y="30.9" width="1006.6" height="191.3" fill="none" stroke="#404040" stroke-width="1.4"/>
<path d="M139.65 222.2v6.9M182.82 222.2v6.9M225.99 222.2v6.9M269.16 222.2v6.9M312.33 222.2v6.9M355.5 222.2v6.9M398.67 222.2v6.9M441.84 222.2v6.9M485.01 222.2v6.9M528.18 222.2v6.9M571.35 222.2v6.9M614.52 222.2v6.9M657.69 222.2v6.9M700.86 222.2v6.9M744.03 222.2v6.9M787.2 222.2v6.9M830.37 222.2v6.9M873.54 222.2v6.9M916.71 222.2v6.9M959.88 222.2v6.9M1003.05 222.2v6.9M1046.22 222.2v6.9M1089.39 222.2v6.9M96.8 214.1H103.7M96.8 170.35H103.7M96.8 126.6H103.7M96.8 82.85H103.7M96.8 39.1H103.7" stroke="#2e2e2e" stroke-width="2.1" fill="none"/>
<text x="79.55" y="220.1" class="tk" font-size="17.8" fill="#4d4d4d" textLength="11.12" lengthAdjust="spacingAndGlyphs">0</text>
<text x="79.55" y="176.35" class="tk" font-size="17.8" fill="#4d4d4d" textLength="11.18" lengthAdjust="spacingAndGlyphs">5</text>
<text x="69.79" y="132.6" class="tk" font-size="17.8" fill="#4d4d4d" textLength="20.85" lengthAdjust="spacingAndGlyphs">10</text>
<text x="69.79" y="88.85" class="tk" font-size="17.8" fill="#4d4d4d" textLength="20.91" lengthAdjust="spacingAndGlyphs">15</text>
<text x="69.24" y="45.1" class="tk" font-size="17.8" fill="#4d4d4d" textLength="21.43" lengthAdjust="spacingAndGlyphs">20</text>
<text transform="translate(39.3 127.7) rotate(-90)" x="-107.3" class="bk" font-size="24.5" fill="#000" textLength="213.63" lengthAdjust="spacingAndGlyphs">admissions per day</text>
<text x="1.63" y="22.3" class="bk" font-size="30.4" fill="#000" textLength="18.32" lengthAdjust="spacingAndGlyphs">A</text>
</g>
<g id="panelB">
<clipPath id="clipB"><rect x="103.7" y="289.4" width="1006.6" height="191.2"/></clipPath>
<path d="M118.06 289.4V480.6M161.24 289.4V480.6M204.41 289.4V480.6M247.58 289.4V480.6M290.75 289.4V480.6M333.92 289.4V480.6M377.09 289.4V480.6M420.25 289.4V480.6M463.43 289.4V480.6M506.6 289.4V480.6M549.76 289.4V480.6M592.94 289.4V480.6M636.11 289.4V480.6M679.27 289.4V480.6M722.45 289.4V480.6M765.62 289.4V480.6M808.78 289.4V480.6M851.96 289.4V480.6M895.12 289.4V480.6M938.29 289.4V480.6M981.47 289.4V480.6M1024.63 289.4V480.6M1067.81 289.4V480.6M103.7 450.77H1110.3M103.7 407.01H1110.3M103.7 363.24H1110.3M103.7 319.48H1110.3" stroke="#eaeaea" stroke-width="1" fill="none"/>
<path d="M139.65 289.4V480.6M182.82 289.4V480.6M225.99 289.4V480.6M269.16 289.4V480.6M312.33 289.4V480.6M355.5 289.4V480.6M398.67 289.4V480.6M441.84 289.4V480.6M485.01 289.4V480.6M528.18 289.4V480.6M571.35 289.4V480.6M614.52 289.4V480.6M657.69 289.4V480.6M700.86 289.4V480.6M744.03 289.4V480.6M787.2 289.4V480.6M830.37 289.4V480.6M873.54 289.4V480.6M916.71 289.4V480.6M959.88 289.4V480.6M1003.05 289.4V480.6M1046.22 289.4V480.6M1089.39 289.4V480.6M103.7 472.65H1110.3M103.7 428.89H1110.3M103.7 385.12H1110.3M103.7 341.36H1110.3M103.7 297.6H1110.3" stroke="#e3e3e3" stroke-width="1.5" fill="none"/>
<g clip-path="url(#clipB)">
<path d="M170.3 297.6L1043.4 297.6L1043.4 337L1039.6 338.8L1035.8 338.5L1032 339.4L1028.2 340.7L1024.4 341.7L1021.6 343L1018.2 344.5L1015 343.6L1011.8 341.7L1009.3 344.2L1006.1 342.1L1003.6 342.6L1000.4 344.2L997 340.4L993.2 337L988.4 334.7L984.7 330.3L981.4 326L979 329.4L976.1 330.3L972.3 330.3L968.5 327.9L964.8 328.4L961.9 330.3L959.1 335.4L956.2 334.1L952.4 336L948.6 338.5L944.9 340.4L941.1 342.3L938.2 346.8L935.4 347.4L931.6 341.7L928.7 339.8L925.9 336L923.1 337.3L919.7 337.9L916.4 338.8L913.6 337L910.7 338.8L907 340.4L902.2 337.3L898.4 337L894.6 338.5L891.8 337.3L889 336.4L886.1 337L882.3 341.7L878.5 345.1L873.8 345.1L870 342.3L867.1 343L863.9 343.2L860.9 340.7L857.7 347.4L854.8 347.9L852 350.6L848.8 348.7L845.7 351.7L842.5 347.9L839.7 348.3L836.8 343.2L834 343.6L831.1 344.2L827.3 346.4L824.5 345.5L821.7 345.9L817.9 346.4L815 347.4L812.2 346.4L809.3 349.3L806.5 351.7L802.7 354L798.9 352.1L795.1 355.5L790.4 359.7L786.6 363.5L783.8 365L779 367.7L774.9 370.1L771.4 378.3L767.7 379.6L764.8 378.6L762 374.9L759.1 369.5L756.3 370.1L752.9 378.6L750.2 383.4L746.8 380.9L744 383.9L741.1 384.7L738.3 383.4L735.4 382.4L731.6 383.9L728.8 383.9L725 381.5L722.2 380.5L719.3 382.1L716.5 384.3L713.6 387.2L710.8 389.1L708.9 386.2L706.1 383L702.3 382.4L700.4 380.5L697.5 374.9L694.7 373.3L691.9 375.8L689 377.1L685.2 376.7L681.4 374.9L677.6 373.3L673.8 372L670.1 370.7L666.3 369.5L663.4 370.7L660.6 371.4L657.4 367.7L654.9 368.2L651.7 370.1L648.3 366.3L644.9 362L641.6 362.5L637.8 366.3L635 366.9L632.7 365.8L630.3 367.7L627.4 364.4L623.6 364.1L620.8 362.5L617.9 360.1L616 359.3L613.2 360.1L610.4 363.1L607.5 362.5L604.7 362.9L601.8 363.5L599 366.3L595.2 362L592.3 356.8L589.5 355.5L586.7 359.7L584.8 359.3L581.9 360.1L578.1 362.5L574.3 365.4L571.5 367.7L567.7 363.5L564.9 363.5L562 366.9L559.2 369.5L556.3 371.4L553.5 366.9L550.7 364.4L548.8 365.4L545.9 368.2L543.1 371.1L540.2 373.3L537.4 373.9L534.5 375.8L532.3 374.9L529.8 372L527 368.8L524.7 367.3L522.2 370.1L519.8 369.2L517.9 366.3L515.6 361.6L512.8 361.6L509.5 362L506.1 364.4L503.3 365.8L500.8 368.2L498.2 363.5L495.7 355.9L493.8 350.6L491.3 349.3L488.1 350.6L485.3 351.7L481.9 356.8L478.6 361.2L475.8 362.5L473 364.4L469.7 367.3L466.7 368.2L464.1 368.8L460.6 372L457.4 375.4L454 371.4L450.8 367.7L447.4 368.8L444.5 367.7L441.7 368.8L438.8 371.4L436 369.5L433.2 368.8L429.4 366.3L426.5 368.2L423.7 366.3L419 368.2L415.2 370.7L411.4 373.3L407.6 374.9L404.7 384.7L401.9 382.8L400 387.2L398.5 389.6L395.3 386.6L392.4 383.8L389.6 384.3L386.7 386.2L382.9 391L379.1 397.6L376.3 403.3L373.5 401.8L369.7 398L366.8 397.2L364 394.9L361.1 395.1L358.3 395.3L355.5 399.9L352.6 404.8L349.8 406.7L346.9 407.4L343.1 410.9L340.3 412.4L337.1 414.6L332.7 409.9L329.9 407.6L327 408.6L324.2 410.3L321.3 408.8L318.5 409.3L315.7 410.9L312.8 411.6L310 410.9L306.2 409L303.3 409L300.5 408.4L296.7 408.6L293.9 406.7L290.1 405.6L284.4 408L281.5 408.4L277.8 411.2L274 413.7L270.2 415L266.4 415.6L263.2 417.5L260.7 416.5L257.9 417.5L254.1 420L250.3 423.7L246.9 428.5L244.6 429.4L240.8 427L238 432.7L235.1 440.8L232.8 441.2L229.4 445.3L225.3 451L222.8 452.2L220 450.3L218.1 451.6L216.2 456.3L213.3 472.4L170.3 472.6Z" fill="#e41a1c" fill-opacity="0.2"/>
<path d="M170.3 297.6L1043.4 297.6" fill="none" stroke="#be3034" stroke-width="1.7" stroke-linejoin="round"/>
<path d="M170.3 472.6L213.3 472.4L216.2 456.3L218.1 451.6L220 450.3L222.8 452.2L225.3 451L229.4 445.3L232.8 441.2L235.1 440.8L238 432.7L240.8 427L244.6 429.4L246.9 428.5L250.3 423.7L254.1 420L257.9 417.5L260.7 416.5L263.2 417.5L266.4 415.6L270.2 415L274 413.7L277.8 411.2L281.5 408.4L284.4 408L290.1 405.6L293.9 406.7L296.7 408.6L300.5 408.4L303.3 409L306.2 409L310 410.9L312.8 411.6L315.7 410.9L318.5 409.3L321.3 408.8L324.2 410.3L327 408.6L329.9 407.6L332.7 409.9L337.1 414.6L340.3 412.4L343.1 410.9L346.9 407.4L349.8 406.7L352.6 404.8L355.5 399.9L358.3 395.3L361.1 395.1L364 394.9L366.8 397.2L369.7 398L373.5 401.8L376.3 403.3L379.1 397.6L382.9 391L386.7 386.2L389.6 384.3L392.4 383.8L395.3 386.6L398.5 389.6L400 387.2L401.9 382.8L404.7 384.7L407.6 374.9L411.4 373.3L415.2 370.7L419 368.2L423.7 366.3L426.5 368.2L429.4 366.3L433.2 368.8L436 369.5L438.8 371.4L441.7 368.8L444.5 367.7L447.4 368.8L450.8 367.7L454 371.4L457.4 375.4L460.6 372L464.1 368.8L466.7 368.2L469.7 367.3L473 364.4L475.8 362.5L478.6 361.2L481.9 356.8L485.3 351.7L488.1 350.6L491.3 349.3L493.8 350.6L495.7 355.9L498.2 363.5L500.8 368.2L503.3 365.8L506.1 364.4L509.5 362L512.8 361.6L515.6 361.6L517.9 366.3L519.8 369.2L522.2 370.1L524.7 367.3L527 368.8L529.8 372L532.3 374.9L534.5 375.8L537.4 373.9L540.2 373.3L543.1 371.1L545.9 368.2L548.8 365.4L550.7 364.4L553.5 366.9L556.3 371.4L559.2 369.5L562 366.9L564.9 363.5L567.7 363.5L571.5 367.7L574.3 365.4L578.1 362.5L581.9 360.1L584.8 359.3L586.7 359.7L589.5 355.5L592.3 356.8L595.2 362L599 366.3L601.8 363.5L604.7 362.9L607.5 362.5L610.4 363.1L613.2 360.1L616 359.3L617.9 360.1L620.8 362.5L623.6 364.1L627.4 364.4L630.3 367.7L632.7 365.8L635 366.9L637.8 366.3L641.6 362.5L644.9 362L648.3 366.3L651.7 370.1L654.9 368.2L657.4 367.7L660.6 371.4L663.4 370.7L666.3 369.5L670.1 370.7L673.8 372L677.6 373.3L681.4 374.9L685.2 376.7L689 377.1L691.9 375.8L694.7 373.3L697.5 374.9L700.4 380.5L702.3 382.4L706.1 383L708.9 386.2L710.8 389.1L713.6 387.2L716.5 384.3L719.3 382.1L722.2 380.5L725 381.5L728.8 383.9L731.6 383.9L735.4 382.4L738.3 383.4L741.1 384.7L744 383.9L746.8 380.9L750.2 383.4L752.9 378.6L756.3 370.1L759.1 369.5L762 374.9L764.8 378.6L767.7 379.6L771.4 378.3L774.9 370.1L779 367.7L783.8 365L786.6 363.5L790.4 359.7L795.1 355.5L798.9 352.1L802.7 354L806.5 351.7L809.3 349.3L812.2 346.4L815 347.4L817.9 346.4L821.7 345.9L824.5 345.5L827.3 346.4L831.1 344.2L834 343.6L836.8 343.2L839.7 348.3L842.5 347.9L845.7 351.7L848.8 348.7L852 350.6L854.8 347.9L857.7 347.4L860.9 340.7L863.9 343.2L867.1 343L870 342.3L873.8 345.1L878.5 345.1L882.3 341.7L886.1 337L889 336.4L891.8 337.3L894.6 338.5L898.4 337L902.2 337.3L907 340.4L910.7 338.8L913.6 337L916.4 338.8L919.7 337.9L923.1 337.3L925.9 336L928.7 339.8L931.6 341.7L935.4 347.4L938.2 346.8L941.1 342.3L944.9 340.4L948.6 338.5L952.4 336L956.2 334.1L959.1 335.4L961.9 330.3L964.8 328.4L968.5 327.9L972.3 330.3L976.1 330.3L979 329.4L981.4 326L984.7 330.3L988.4 334.7L993.2 337L997 340.4L1000.4 344.2L1003.6 342.6L1006.1 342.1L1009.3 344.2L1011.8 341.7L1015 343.6L1018.2 344.5L1021.6 343L1024.4 341.7L1028.2 340.7L1032 339.4L1035.8 338.5L1039.6 338.8L1043.4 337L1043.4 355L1039.6 358.7L1036.8 357.8L1033.9 355.9L1032 356.5L1028.2 359.3L1024.4 362.5L1021.6 363.9L1018.8 367.7L1016.9 368.8L1014 367.3L1010.2 363.5L1006.4 361.2L1003.6 361.6L1000.4 364.4L997 360.6L994.1 357.2L989.4 357.8L985.6 355.9L981.8 354L979 355L975.2 352.5L971.4 350.6L968.5 351.2L965.7 353.1L961.9 357.8L959.1 362L956.8 361.2L953.4 365.8L950.5 370.7L948.6 369.5L945.8 370.7L942 373.3L938.2 376.7L935.4 377.7L931.6 371.4L928.7 372.6L925.9 368.2L923.1 370.7L919.7 372L916.4 373.3L911.7 370.1L907.9 368.2L904.1 363.9L901.3 363.9L898.4 362.9L894.6 364.4L891.8 365L889 362.5L886.1 365.4L882.3 369.5L878.5 373.3L873.8 373L870 370.1L867.1 371.4L863.9 375.8L860.9 374.9L857.7 380.5L854.8 382.4L852 387.7L849.1 383.4L846.3 381.5L843.1 378.3L839.7 377.7L836.3 374.5L833.6 376.4L830.2 373.9L827.3 373.5L824.1 373.5L820.7 375.8L817.9 372.6L815 373L812.2 372L809.3 376.4L806.5 377.7L803.7 380.5L799.9 383.4L796.1 387.7L791.3 390.4L787.6 392.3L783.8 396.6L780.9 399.5L778.1 401.4L775.6 406.1L773.3 414.6L771.1 421.8L768.6 427L765.4 428.9L762.3 425.6L759.1 427.5L756.3 428.9L752.9 433.6L750.2 435.5L746.8 432.7L744 436.4L741.1 436.8L738.3 435.1L735.4 433.2L732.6 434L729.8 433.6L726.9 431.7L724.1 429.4L721.2 429.4L718.4 430.8L715.5 433.2L712.7 431.7L709.9 433.2L707 430.8L704.2 435.5L701.3 438.3L698.5 440.2L695.6 440.2L691.9 443.1L689 445.3L685.2 447.8L681.4 447.2L677.6 450.7L673.8 453.5L671 454.1L667.2 456.7L663.4 460.1L660.6 463L657.7 459.2L653 460.1L648.3 461.6L643.5 463L638.8 464.9L635 465.8L632.1 465.8L627.4 465.8L623.6 464.5L619.8 465.1L615.1 465.4L611.3 467.7L605.6 468.3L600.9 469.4L595.2 469.4L589.5 468.7L584.8 467.9L580 468.3L577.2 469.6L571.5 469.2L566.8 468.1L559.2 467.5L551.6 467.7L545.9 468.3L540.2 470.9L532.7 471.1L527.3 470.6L524.7 469.2L522.2 470.6L516.5 470.6L511.8 469L502.3 468.3L491 467.9L481.9 468.1L479.6 469.2L475.8 470L464.4 470.2L456.9 470L453.1 467.7L450.2 466.4L444.5 466.8L437.9 466.4L430.3 466.6L423.7 467.1L419 468.7L413.3 469L408.5 469.6L403.8 471.9L400 472.4L398.1 472.4L364 472.4L360.2 470.2L326.1 470.2L319.4 470.6L315.7 472.4L170.3 472.4Z" fill="#377eb8" fill-opacity="0.2"/>
<path d="M170.3 472.6L213.3 472.4L216.2 456.3L218.1 451.6L220 450.3L222.8 452.2L225.3 451L229.4 445.3L232.8 441.2L235.1 440.8L238 432.7L240.8 427L244.6 429.4L246.9 428.5L250.3 423.7L254.1 420L257.9 417.5L260.7 416.5L263.2 417.5L266.4 415.6L270.2 415L274 413.7L277.8 411.2L281.5 408.4L284.4 408L290.1 405.6L293.9 406.7L296.7 408.6L300.5 408.4L303.3 409L306.2 409L310 410.9L312.8 411.6L315.7 410.9L318.5 409.3L321.3 408.8L324.2 410.3L327 408.6L329.9 407.6L332.7 409.9L337.1 414.6L340.3 412.4L343.1 410.9L346.9 407.4L349.8 406.7L352.6 404.8L355.5 399.9L358.3 395.3L361.1 395.1L364 394.9L366.8 397.2L369.7 398L373.5 401.8L376.3 403.3L379.1 397.6L382.9 391L386.7 386.2L389.6 384.3L392.4 383.8L395.3 386.6L398.5 389.6L400 387.2L401.9 382.8L404.7 384.7L407.6 374.9L411.4 373.3L415.2 370.7L419 368.2L423.7 366.3L426.5 368.2L429.4 366.3L433.2 368.8L436 369.5L438.8 371.4L441.7 368.8L444.5 367.7L447.4 368.8L450.8 367.7L454 371.4L457.4 375.4L460.6 372L464.1 368.8L466.7 368.2L469.7 367.3L473 364.4L475.8 362.5L478.6 361.2L481.9 356.8L485.3 351.7L488.1 350.6L491.3 349.3L493.8 350.6L495.7 355.9L498.2 363.5L500.8 368.2L503.3 365.8L506.1 364.4L509.5 362L512.8 361.6L515.6 361.6L517.9 366.3L519.8 369.2L522.2 370.1L524.7 367.3L527 368.8L529.8 372L532.3 374.9L534.5 375.8L537.4 373.9L540.2 373.3L543.1 371.1L545.9 368.2L548.8 365.4L550.7 364.4L553.5 366.9L556.3 371.4L559.2 369.5L562 366.9L564.9 363.5L567.7 363.5L571.5 367.7L574.3 365.4L578.1 362.5L581.9 360.1L584.8 359.3L586.7 359.7L589.5 355.5L592.3 356.8L595.2 362L599 366.3L601.8 363.5L604.7 362.9L607.5 362.5L610.4 363.1L613.2 360.1L616 359.3L617.9 360.1L620.8 362.5L623.6 364.1L627.4 364.4L630.3 367.7L632.7 365.8L635 366.9L637.8 366.3L641.6 362.5L644.9 362L648.3 366.3L651.7 370.1L654.9 368.2L657.4 367.7L660.6 371.4L663.4 370.7L666.3 369.5L670.1 370.7L673.8 372L677.6 373.3L681.4 374.9L685.2 376.7L689 377.1L691.9 375.8L694.7 373.3L697.5 374.9L700.4 380.5L702.3 382.4L706.1 383L708.9 386.2L710.8 389.1L713.6 387.2L716.5 384.3L719.3 382.1L722.2 380.5L725 381.5L728.8 383.9L731.6 383.9L735.4 382.4L738.3 383.4L741.1 384.7L744 383.9L746.8 380.9L750.2 383.4L752.9 378.6L756.3 370.1L759.1 369.5L762 374.9L764.8 378.6L767.7 379.6L771.4 378.3L774.9 370.1L779 367.7L783.8 365L786.6 363.5L790.4 359.7L795.1 355.5L798.9 352.1L802.7 354L806.5 351.7L809.3 349.3L812.2 346.4L815 347.4L817.9 346.4L821.7 345.9L824.5 345.5L827.3 346.4L831.1 344.2L834 343.6L836.8 343.2L839.7 348.3L842.5 347.9L845.7 351.7L848.8 348.7L852 350.6L854.8 347.9L857.7 347.4L860.9 340.7L863.9 343.2L867.1 343L870 342.3L873.8 345.1L878.5 345.1L882.3 341.7L886.1 337L889 336.4L891.8 337.3L894.6 338.5L898.4 337L902.2 337.3L907 340.4L910.7 338.8L913.6 337L916.4 338.8L919.7 337.9L923.1 337.3L925.9 336L928.7 339.8L931.6 341.7L935.4 347.4L938.2 346.8L941.1 342.3L944.9 340.4L948.6 338.5L952.4 336L956.2 334.1L959.1 335.4L961.9 330.3L964.8 328.4L968.5 327.9L972.3 330.3L976.1 330.3L979 329.4L981.4 326L984.7 330.3L988.4 334.7L993.2 337L997 340.4L1000.4 344.2L1003.6 342.6L1006.1 342.1L1009.3 344.2L1011.8 341.7L1015 343.6L1018.2 344.5L1021.6 343L1024.4 341.7L1028.2 340.7L1032 339.4L1035.8 338.5L1039.6 338.8L1043.4 337" fill="none" stroke="#34689c" stroke-width="1.7" stroke-linejoin="round"/>
<path d="M170.3 472.4L315.7 472.4L319.4 470.6L326.1 470.2L360.2 470.2L364 472.4L398.1 472.4L400 472.4L403.8 471.9L408.5 469.6L413.3 469L419 468.7L423.7 467.1L430.3 466.6L437.9 466.4L444.5 466.8L450.2 466.4L453.1 467.7L456.9 470L464.4 470.2L475.8 470L479.6 469.2L481.9 468.1L491 467.9L502.3 468.3L511.8 469L516.5 470.6L522.2 470.6L524.7 469.2L527.3 470.6L532.7 471.1L540.2 470.9L545.9 468.3L551.6 467.7L559.2 467.5L566.8 468.1L571.5 469.2L577.2 469.6L580 468.3L584.8 467.9L589.5 468.7L595.2 469.4L600.9 469.4L605.6 468.3L611.3 467.7L615.1 465.4L619.8 465.1L623.6 464.5L627.4 465.8L632.1 465.8L635 465.8L638.8 464.9L643.5 463L648.3 461.6L653 460.1L657.7 459.2L660.6 463L663.4 460.1L667.2 456.7L671 454.1L673.8 453.5L677.6 450.7L681.4 447.2L685.2 447.8L689 445.3L691.9 443.1L695.6 440.2L698.5 440.2L701.3 438.3L704.2 435.5L707 430.8L709.9 433.2L712.7 431.7L715.5 433.2L718.4 430.8L721.2 429.4L724.1 429.4L726.9 431.7L729.8 433.6L732.6 434L735.4 433.2L738.3 435.1L741.1 436.8L744 436.4L746.8 432.7L750.2 435.5L752.9 433.6L756.3 428.9L759.1 427.5L762.3 425.6L765.4 428.9L768.6 427L771.1 421.8L773.3 414.6L775.6 406.1L778.1 401.4L780.9 399.5L783.8 396.6L787.6 392.3L791.3 390.4L796.1 387.7L799.9 383.4L803.7 380.5L806.5 377.7L809.3 376.4L812.2 372L815 373L817.9 372.6L820.7 375.8L824.1 373.5L827.3 373.5L830.2 373.9L833.6 376.4L836.3 374.5L839.7 377.7L843.1 378.3L846.3 381.5L849.1 383.4L852 387.7L854.8 382.4L857.7 380.5L860.9 374.9L863.9 375.8L867.1 371.4L870 370.1L873.8 373L878.5 373.3L882.3 369.5L886.1 365.4L889 362.5L891.8 365L894.6 364.4L898.4 362.9L901.3 363.9L904.1 363.9L907.9 368.2L911.7 370.1L916.4 373.3L919.7 372L923.1 370.7L925.9 368.2L928.7 372.6L931.6 371.4L935.4 377.7L938.2 376.7L942 373.3L945.8 370.7L948.6 369.5L950.5 370.7L953.4 365.8L956.8 361.2L959.1 362L961.9 357.8L965.7 353.1L968.5 351.2L971.4 350.6L975.2 352.5L979 355L981.8 354L985.6 355.9L989.4 357.8L994.1 357.2L997 360.6L1000.4 364.4L1003.6 361.6L1006.4 361.2L1010.2 363.5L1014 367.3L1016.9 368.8L1018.8 367.7L1021.6 363.9L1024.4 362.5L1028.2 359.3L1032 356.5L1033.9 355.9L1036.8 357.8L1039.6 358.7L1043.4 355L1043.4 472.6L170.3 472.6Z" fill="#4daf4a" fill-opacity="0.2"/>
<path d="M170.3 472.4L315.7 472.4L319.4 470.6L326.1 470.2L360.2 470.2L364 472.4L398.1 472.4L400 472.4L403.8 471.9L408.5 469.6L413.3 469L419 468.7L423.7 467.1L430.3 466.6L437.9 466.4L444.5 466.8L450.2 466.4L453.1 467.7L456.9 470L464.4 470.2L475.8 470L479.6 469.2L481.9 468.1L491 467.9L502.3 468.3L511.8 469L516.5 470.6L522.2 470.6L524.7 469.2L527.3 470.6L532.7 471.1L540.2 470.9L545.9 468.3L551.6 467.7L559.2 467.5L566.8 468.1L571.5 469.2L577.2 469.6L580 468.3L584.8 467.9L589.5 468.7L595.2 469.4L600.9 469.4L605.6 468.3L611.3 467.7L615.1 465.4L619.8 465.1L623.6 464.5L627.4 465.8L632.1 465.8L635 465.8L638.8 464.9L643.5 463L648.3 461.6L653 460.1L657.7 459.2L660.6 463L663.4 460.1L667.2 456.7L671 454.1L673.8 453.5L677.6 450.7L681.4 447.2L685.2 447.8L689 445.3L691.9 443.1L695.6 440.2L698.5 440.2L701.3 438.3L704.2 435.5L707 430.8L709.9 433.2L712.7 431.7L715.5 433.2L718.4 430.8L721.2 429.4L724.1 429.4L726.9 431.7L729.8 433.6L732.6 434L735.4 433.2L738.3 435.1L741.1 436.8L744 436.4L746.8 432.7L750.2 435.5L752.9 433.6L756.3 428.9L759.1 427.5L762.3 425.6L765.4 428.9L768.6 427L771.1 421.8L773.3 414.6L775.6 406.1L778.1 401.4L780.9 399.5L783.8 396.6L787.6 392.3L791.3 390.4L796.1 387.7L799.9 383.4L803.7 380.5L806.5 377.7L809.3 376.4L812.2 372L815 373L817.9 372.6L820.7 375.8L824.1 373.5L827.3 373.5L830.2 373.9L833.6 376.4L836.3 374.5L839.7 377.7L843.1 378.3L846.3 381.5L849.1 383.4L852 387.7L854.8 382.4L857.7 380.5L860.9 374.9L863.9 375.8L867.1 371.4L870 370.1L873.8 373L878.5 373.3L882.3 369.5L886.1 365.4L889 362.5L891.8 365L894.6 364.4L898.4 362.9L901.3 363.9L904.1 363.9L907.9 368.2L911.7 370.1L916.4 373.3L919.7 372L923.1 370.7L925.9 368.2L928.7 372.6L931.6 371.4L935.4 377.7L938.2 376.7L942 373.3L945.8 370.7L948.6 369.5L950.5 370.7L953.4 365.8L956.8 361.2L959.1 362L961.9 357.8L965.7 353.1L968.5 351.2L971.4 350.6L975.2 352.5L979 355L981.8 354L985.6 355.9L989.4 357.8L994.1 357.2L997 360.6L1000.4 364.4L1003.6 361.6L1006.4 361.2L1010.2 363.5L1014 367.3L1016.9 368.8L1018.8 367.7L1021.6 363.9L1024.4 362.5L1028.2 359.3L1032 356.5L1033.9 355.9L1036.8 357.8L1039.6 358.7L1043.4 355" fill="none" stroke="#42963f" stroke-width="1.7" stroke-linejoin="round"/>
</g>
<line x1="633.2" x2="633.2" y1="289.4" y2="480.6" stroke="#000" stroke-width="1.7"/>
<line x1="917.0" x2="917.0" y1="289.4" y2="480.6" stroke="#000" stroke-width="1.7"/>
<rect x="103.7" y="289.4" width="1006.6" height="191.2" fill="none" stroke="#404040" stroke-width="1.4"/>
<path d="M139.65 480.6v6.9M182.82 480.6v6.9M225.99 480.6v6.9M269.16 480.6v6.9M312.33 480.6v6.9M355.5 480.6v6.9M398.67 480.6v6.9M441.84 480.6v6.9M485.01 480.6v6.9M528.18 480.6v6.9M571.35 480.6v6.9M614.52 480.6v6.9M657.69 480.6v6.9M700.86 480.6v6.9M744.03 480.6v6.9M787.2 480.6v6.9M830.37 480.6v6.9M873.54 480.6v6.9M916.71 480.6v6.9M959.88 480.6v6.9M1003.05 480.6v6.9M1046.22 480.6v6.9M1089.39 480.6v6.9M96.8 472.65H103.7M96.8 428.89H103.7M96.8 385.12H103.7M96.8 341.36H103.7M96.8 297.6H103.7" stroke="#2e2e2e" stroke-width="2.1" fill="none"/>
<text x="54.61" y="478.65" class="tk" font-size="17.8" fill="#4d4d4d" textLength="36.01" lengthAdjust="spacingAndGlyphs">0.00</text>
<text x="54.61" y="434.89" class="tk" font-size="17.8" fill="#4d4d4d" textLength="36.06" lengthAdjust="spacingAndGlyphs">0.25</text>
<text x="54.61" y="391.12" class="tk" font-size="17.8" fill="#4d4d4d" textLength="36.01" lengthAdjust="spacingAndGlyphs">0.50</text>
<text x="54.61" y="347.36" class="tk" font-size="17.8" fill="#4d4d4d" textLength="36.06" lengthAdjust="spacingAndGlyphs">0.75</text>
<text x="54.98" y="303.6" class="tk" font-size="17.8" fill="#4d4d4d" textLength="35.63" lengthAdjust="spacingAndGlyphs">1.00</text>
<text transform="translate(39.3 386) rotate(-90)" x="-58.44" class="bk" font-size="24.5" fill="#000" textLength="116.89" lengthAdjust="spacingAndGlyphs">proportion</text>
<text x="0.99" y="280.8" class="bk" font-size="30.4" fill="#000" textLength="18.66" lengthAdjust="spacingAndGlyphs">B</text>
</g>
<g id="panelC">
<clipPath id="clipC"><rect x="103.7" y="547.8" width="1006.6" height="191.2"/></clipPath>
<path d="M118.06 547.8V739.0M161.24 547.8V739.0M204.41 547.8V739.0M247.58 547.8V739.0M290.75 547.8V739.0M333.92 547.8V739.0M377.09 547.8V739.0M420.25 547.8V739.0M463.43 547.8V739.0M506.6 547.8V739.0M549.76 547.8V739.0M592.94 547.8V739.0M636.11 547.8V739.0M679.27 547.8V739.0M722.45 547.8V739.0M765.62 547.8V739.0M808.78 547.8V739.0M851.96 547.8V739.0M895.12 547.8V739.0M938.29 547.8V739.0M981.47 547.8V739.0M1024.63 547.8V739.0M1067.81 547.8V739.0M103.7 709.12H1110.3M103.7 665.36H1110.3M103.7 621.59H1110.3M103.7 577.83H1110.3" stroke="#eaeaea" stroke-width="1" fill="none"/>
<path d="M139.65 547.8V739.0M182.82 547.8V739.0M225.99 547.8V739.0M269.16 547.8V739.0M312.33 547.8V739.0M355.5 547.8V739.0M398.67 547.8V739.0M441.84 547.8V739.0M485.01 547.8V739.0M528.18 547.8V739.0M571.35 547.8V739.0M614.52 547.8V739.0M657.69 547.8V739.0M700.86 547.8V739.0M744.03 547.8V739.0M787.2 547.8V739.0M830.37 547.8V739.0M873.54 547.8V739.0M916.71 547.8V739.0M959.88 547.8V739.0M1003.05 547.8V739.0M1046.22 547.8V739.0M1089.39 547.8V739.0M103.7 731H1110.3M103.7 687.24H1110.3M103.7 643.48H1110.3M103.7 599.71H1110.3M103.7 555.95H1110.3" stroke="#e3e3e3" stroke-width="1.5" fill="none"/>
<g clip-path="url(#clipC)">
<path d="M170.3 556L1043.4 556L1043.4 573.9L1040.7 576.7L1037.4 578.9L1034.1 578.2L1029.8 580L1025.4 581.1L1022.1 580.4L1017.8 582.6L1013.4 583.2L1009 584.8L1005.8 584.3L1002.5 585.4L999.2 589.8L996 587.6L993.1 583.9L990.5 584.3L987.2 587L985.1 585.4L981.8 588.3L978.5 590.4L973.1 589.1L968.7 587.6L964.4 589.1L960 590.4L957.3 588.1L953.7 585.7L951 585.7L947.4 586.3L944.7 585.2L941.1 586.3L937.5 589.9L933.9 588.4L930.3 588.1L926.7 588.8L923.1 588.1L919.5 587L915 586.3L911.4 587.5L907.8 588.8L904.2 587L901.5 588.8L898.8 588.1L895.2 586.3L891.6 584.5L888 583.9L885.3 584.8L881.7 588.1L879 590.6L876.3 590.6L872.7 588.8L869.1 587L865.5 585.7L861.9 583.9L859.2 584.5L855.6 583.4L851.9 584.5L848.3 583.9L844.7 583.4L841.1 583.4L837.5 581.2L833.9 578.5L830.3 576.7L826.7 576.7L823.1 578L819.5 582.7L815.9 582.1L812.3 583L808.7 580.9L805.1 581.2L801.5 581.2L797.9 580.9L794.3 579.8L790.7 580.3L787.1 581.6L783.5 582.1L779.9 583.4L777.2 582.7L774.5 576.2L772.7 581.2L770 583L767.9 581.2L765.2 580.3L761.6 581.6L757.1 583.9L753.5 585.7L749.9 588.1L746.3 584.8L741.8 587L738.2 585.7L734.6 584.5L731 586.6L728.3 588.8L723.8 581.2L720.2 578.5L715.7 579.1L712.1 578.5L707.6 575.5L704 573.7L700.9 578.5L697.7 575.5L694.1 572.6L690.5 571.3L686.9 571.3L683.3 569.5L680.6 571.3L677 576.7L673.4 581.6L669.8 579.4L666.2 581.2L662.6 582.7L658.1 581.6L653.6 576.7L650 575.8L646.4 576.2L641.9 574.9L637.4 574L633.2 571.3L630.1 565.9L626.5 563.2L622.9 564.6L619.3 564.1L614.8 564.1L610.3 566.8L605.8 567.2L600.4 567.2L595 567.7L590.5 568.2L586 569L581.5 570.8L577 574.9L572.5 574.9L568 576.2L563.5 574L559 575.5L554.5 579.4L550 576.7L547.9 575.5L545.2 577.3L542.5 576.2L538.9 578L535.3 577.3L531.7 572.6L529 571.8L526.3 568.2L522.7 568.6L519.1 568.6L515.5 568.6L512.8 567.7L510.1 563.2L505.6 563.6L501.1 564.1L497.5 564.1L493.9 566.4L491.2 564.6L486.7 566.8L482.2 567.2L479.5 569L475.9 569.5L472.3 571.8L469.6 570.4L466 571.8L462.4 572.6L457.9 572.6L454.3 572.2L450.7 570.4L448 568.2L443.5 569L439.9 570L436.3 569.5L431.8 567.7L428.2 565.9L424.6 565L421 565.4L416.5 566.8L412.9 568.2L409.2 568.2L406.5 569.5L402 573.1L398.4 574L393 574.9L389.4 574L385.8 573.1L382.2 577.3L377.7 579.1L374.1 577.3L370.5 575.5L366 574L360.6 573.7L357 572.6L352.5 571.3L348 570L342.6 574L338.1 576.7L333.6 574.9L330 577.6L319.8 590L315.5 592.6L312.1 594.8L309.5 593.8L306.1 594.3L303.5 595.2L300.1 598.6L297.5 602.9L294.9 604.6L291.5 607.2L288 612.3L284.6 618L282 615.4L279.5 615.8L276 616.6L272.6 615.8L270 616.6L266.6 620.9L262.8 626.1L259.7 627L256.2 631.2L252.8 629.5L249.7 630.4L246.8 635L244.2 633.8L240.8 631.8L238.2 632.1L235.6 645L233 646.7L229.6 651.9L226.2 657.9L222.7 663.6L219.8 658.4L216.7 660.5L213.8 663L210.4 653.2L207.3 656.2L204.3 649.3L201.2 658.8L197.8 658.4L194.4 656.7L191.8 657L189.2 665.6L185.8 676.8L179.8 676.8L176.3 660.5L173.8 651.4L170.3 651.4Z" fill="#66c2a5" fill-opacity="0.2"/>
<path d="M170.3 556L1043.4 556" fill="none" stroke="#62bba0" stroke-width="1.6" stroke-linejoin="round"/>
<path d="M170.3 651.4L173.8 651.4L176.3 660.5L179.8 676.8L185.8 676.8L189.2 665.6L191.8 657L194.4 656.7L197.8 658.4L201.2 658.8L204.3 649.3L207.3 656.2L210.4 653.2L213.8 663L216.7 660.5L219.8 658.4L222.7 663.6L226.2 657.9L229.6 651.9L233 646.7L235.6 645L238.2 632.1L240.8 631.8L244.2 633.8L246.8 635L249.7 630.4L252.8 629.5L256.2 631.2L259.7 627L262.8 626.1L266.6 620.9L270 616.6L272.6 615.8L276 616.6L279.5 615.8L282 615.4L284.6 618L288 612.3L291.5 607.2L294.9 604.6L297.5 602.9L300.1 598.6L303.5 595.2L306.1 594.3L309.5 593.8L312.1 594.8L315.5 592.6L319.8 590L330 577.6L333.6 574.9L338.1 576.7L342.6 574L348 570L352.5 571.3L357 572.6L360.6 573.7L366 574L370.5 575.5L374.1 577.3L377.7 579.1L382.2 577.3L385.8 573.1L389.4 574L393 574.9L398.4 574L402 573.1L406.5 569.5L409.2 568.2L412.9 568.2L416.5 566.8L421 565.4L424.6 565L428.2 565.9L431.8 567.7L436.3 569.5L439.9 570L443.5 569L448 568.2L450.7 570.4L454.3 572.2L457.9 572.6L462.4 572.6L466 571.8L469.6 570.4L472.3 571.8L475.9 569.5L479.5 569L482.2 567.2L486.7 566.8L491.2 564.6L493.9 566.4L497.5 564.1L501.1 564.1L505.6 563.6L510.1 563.2L512.8 567.7L515.5 568.6L519.1 568.6L522.7 568.6L526.3 568.2L529 571.8L531.7 572.6L535.3 577.3L538.9 578L542.5 576.2L545.2 577.3L547.9 575.5L550 576.7L554.5 579.4L559 575.5L563.5 574L568 576.2L572.5 574.9L577 574.9L581.5 570.8L586 569L590.5 568.2L595 567.7L600.4 567.2L605.8 567.2L610.3 566.8L614.8 564.1L619.3 564.1L622.9 564.6L626.5 563.2L630.1 565.9L633.2 571.3L637.4 574L641.9 574.9L646.4 576.2L650 575.8L653.6 576.7L658.1 581.6L662.6 582.7L666.2 581.2L669.8 579.4L673.4 581.6L677 576.7L680.6 571.3L683.3 569.5L686.9 571.3L690.5 571.3L694.1 572.6L697.7 575.5L700.9 578.5L704 573.7L707.6 575.5L712.1 578.5L715.7 579.1L720.2 578.5L723.8 581.2L728.3 588.8L731 586.6L734.6 584.5L738.2 585.7L741.8 587L746.3 584.8L749.9 588.1L753.5 585.7L757.1 583.9L761.6 581.6L765.2 580.3L767.9 581.2L770 583L772.7 581.2L774.5 576.2L777.2 582.7L779.9 583.4L783.5 582.1L787.1 581.6L790.7 580.3L794.3 579.8L797.9 580.9L801.5 581.2L805.1 581.2L808.7 580.9L812.3 583L815.9 582.1L819.5 582.7L823.1 578L826.7 576.7L830.3 576.7L833.9 578.5L837.5 581.2L841.1 583.4L844.7 583.4L848.3 583.9L851.9 584.5L855.6 583.4L859.2 584.5L861.9 583.9L865.5 585.7L869.1 587L872.7 588.8L876.3 590.6L879 590.6L881.7 588.1L885.3 584.8L888 583.9L891.6 584.5L895.2 586.3L898.8 588.1L901.5 588.8L904.2 587L907.8 588.8L911.4 587.5L915 586.3L919.5 587L923.1 588.1L926.7 588.8L930.3 588.1L933.9 588.4L937.5 589.9L941.1 586.3L944.7 585.2L947.4 586.3L951 585.7L953.7 585.7L957.3 588.1L960 590.4L964.4 589.1L968.7 587.6L973.1 589.1L978.5 590.4L981.8 588.3L985.1 585.4L987.2 587L990.5 584.3L993.1 583.9L996 587.6L999.2 589.8L1002.5 585.4L1005.8 584.3L1009 584.8L1013.4 583.2L1017.8 582.6L1022.1 580.4L1025.4 581.1L1029.8 580L1034.1 578.2L1037.4 578.9L1040.7 576.7L1043.4 573.9L1043.4 595.7L1038.9 597.9L1036.3 596.3L1033 594.8L1028.7 597L1025 599.2L1021.5 594.8L1017.8 599.2L1014.5 600.7L1010.1 602.9L1005.8 602.9L1002.5 601.3L999.2 605.7L996.6 604.4L993.8 600.7L990.5 605.7L987.2 610.5L984 612.2L981.8 616.6L978.5 618.8L975.3 619.7L972 617L968.7 615.3L964.4 615.9L960 617.5L958.2 619.9L954.6 622.3L951 623.5L947.4 624.4L943.8 621.2L941.1 624.1L937.5 627.1L933.9 624.1L930.3 624.4L926.7 623L923.1 620.8L919.5 620.8L915 619.4L910.5 616.3L906.9 615.1L904.2 616.3L901.5 617.2L898.8 615.4L895.2 611.8L891.6 608.2L888 604.3L885.3 601.9L882.6 605L879 609.1L876.3 609.1L872.7 608.2L869.1 607.9L865.5 608.6L861.9 607.3L858.3 606.1L854.7 605L851.9 609.1L847.4 605.5L843.8 603.2L840.2 603.7L837.5 602.5L833.9 598.9L830.3 596L826.7 593.8L824 592.9L822.2 594.7L819.5 597.4L815.9 597.1L812.3 597.4L808.7 599.2L806 597.8L803.3 600.7L799.7 605.5L797 608.2L794.3 608.2L791.6 609.7L788 614L784.4 618.1L780.8 623L777.6 626.6L774.5 621.2L772.7 624.4L768.8 628.9L766.1 629.8L762.5 630.7L758.9 635.2L756.2 634.9L753.5 639.8L750.8 637.9L747.2 639.2L743.6 640.3L740 637.4L736.4 633.1L732.8 629.8L729.2 631.3L725.6 628.9L721.1 628L717.5 626.2L713.9 624.1L710.3 620.8L706.7 617.2L704 618.1L701.3 620.5L697.7 616.3L695 613.3L691.9 610.9L688.7 613.3L685.1 614L682.4 613.3L679.3 619.9L677 620.5L673.4 622.6L669.8 620.5L667.1 618.1L664.4 620.5L660.8 623L657.7 625.3L653.6 618.7L650.9 618.7L647.3 619.9L642.8 622.6L639.2 623L635.6 623.5L632.5 611.8L629.2 610.4L625.6 611.5L622 610.9L618.4 609.1L614.8 607.3L611.2 605.5L607.6 606.4L604 608.6L600.4 607.3L596.5 605.5L593.2 602.5L590.5 601L587.8 602.8L585.1 606.1L582.4 605.5L578.8 607.3L575.2 609.1L571.6 614L568 610.4L563.5 609.1L559 609.1L554.5 609.7L550 610.9L547 612.2L543.4 615.4L539.8 619L537.1 619.4L534.1 623L531.7 619L529 616.3L525.4 613.3L522.7 614.5L519.1 616.3L515.5 619.4L512.8 621.2L509.2 620.5L506.5 622.6L502.9 619.9L500.2 618.1L497.5 614.5L493.9 609.7L490.3 609.1L486.7 609.1L482.2 612.7L479.5 611.8L475.9 609.1L473.2 610L469.6 603.7L466.9 599.6L464.2 599.2L460.6 597.1L457 599.6L454.3 598.3L450.7 596.5L447.1 595.6L442.6 595.6L439 597.1L436.3 596L432.7 594.7L429.1 592.9L426.4 590.6L423.7 592L420.1 592.9L416.5 596.5L413.8 599.2L411 600.1L407.4 602.5L403.8 606.1L401.1 606.4L398.4 608.6L395.7 606.4L392.1 604.3L388.5 602.5L385.8 602.5L383.1 610L380.4 612.7L376.8 613.6L374.1 612.2L370.5 606.4L367.8 601L365.1 600.1L362.4 601L358.8 604.6L355.2 608.2L351.6 611.8L348 612.7L344.4 617.2L340.8 619.9L337.2 614.5L333.6 611.8L329.3 613.2L325.9 616.6L323.3 621.8L320.7 627L318.1 628.7L314.7 629.9L312.1 629.2L309.5 626.6L306.1 625.2L302.7 628.7L299.2 631.2L296.6 636.4L293.2 638.1L290.3 641.6L287.2 650.2L284.6 652.7L282 653.9L278.6 655.3L274.3 657.4L270 659.6L266.6 662.2L263.1 666.5L259.7 666.8L256.2 667.7L253.7 670.4L250.2 666.5L246.8 672.5L244.2 673.4L241.6 669.9L238.2 674.2L234.8 680.2L231.8 684.5L228.8 685.9L226.2 687.1L222.7 690.2L219.8 687.6L216.7 695.7L213.8 691.4L210.4 682.8L207.3 684.5L204.3 679.9L201.2 688.8L198.2 690.5L195.2 693.6L192.3 694.8L189.2 700L185.8 690.5L179.8 690L176.7 678.5L173.8 682.8L170.3 683.3Z" fill="#fc8d62" fill-opacity="0.2"/>
<path d="M170.3 651.4L173.8 651.4L176.3 660.5L179.8 676.8L185.8 676.8L189.2 665.6L191.8 657L194.4 656.7L197.8 658.4L201.2 658.8L204.3 649.3L207.3 656.2L210.4 653.2L213.8 663L216.7 660.5L219.8 658.4L222.7 663.6L226.2 657.9L229.6 651.9L233 646.7L235.6 645L238.2 632.1L240.8 631.8L244.2 633.8L246.8 635L249.7 630.4L252.8 629.5L256.2 631.2L259.7 627L262.8 626.1L266.6 620.9L270 616.6L272.6 615.8L276 616.6L279.5 615.8L282 615.4L284.6 618L288 612.3L291.5 607.2L294.9 604.6L297.5 602.9L300.1 598.6L303.5 595.2L306.1 594.3L309.5 593.8L312.1 594.8L315.5 592.6L319.8 590L330 577.6L333.6 574.9L338.1 576.7L342.6 574L348 570L352.5 571.3L357 572.6L360.6 573.7L366 574L370.5 575.5L374.1 577.3L377.7 579.1L382.2 577.3L385.8 573.1L389.4 574L393 574.9L398.4 574L402 573.1L406.5 569.5L409.2 568.2L412.9 568.2L416.5 566.8L421 565.4L424.6 565L428.2 565.9L431.8 567.7L436.3 569.5L439.9 570L443.5 569L448 568.2L450.7 570.4L454.3 572.2L457.9 572.6L462.4 572.6L466 571.8L469.6 570.4L472.3 571.8L475.9 569.5L479.5 569L482.2 567.2L486.7 566.8L491.2 564.6L493.9 566.4L497.5 564.1L501.1 564.1L505.6 563.6L510.1 563.2L512.8 567.7L515.5 568.6L519.1 568.6L522.7 568.6L526.3 568.2L529 571.8L531.7 572.6L535.3 577.3L538.9 578L542.5 576.2L545.2 577.3L547.9 575.5L550 576.7L554.5 579.4L559 575.5L563.5 574L568 576.2L572.5 574.9L577 574.9L581.5 570.8L586 569L590.5 568.2L595 567.7L600.4 567.2L605.8 567.2L610.3 566.8L614.8 564.1L619.3 564.1L622.9 564.6L626.5 563.2L630.1 565.9L633.2 571.3L637.4 574L641.9 574.9L646.4 576.2L650 575.8L653.6 576.7L658.1 581.6L662.6 582.7L666.2 581.2L669.8 579.4L673.4 581.6L677 576.7L680.6 571.3L683.3 569.5L686.9 571.3L690.5 571.3L694.1 572.6L697.7 575.5L700.9 578.5L704 573.7L707.6 575.5L712.1 578.5L715.7 579.1L720.2 578.5L723.8 581.2L728.3 588.8L731 586.6L734.6 584.5L738.2 585.7L741.8 587L746.3 584.8L749.9 588.1L753.5 585.7L757.1 583.9L761.6 581.6L765.2 580.3L767.9 581.2L770 583L772.7 581.2L774.5 576.2L777.2 582.7L779.9 583.4L783.5 582.1L787.1 581.6L790.7 580.3L794.3 579.8L797.9 580.9L801.5 581.2L805.1 581.2L808.7 580.9L812.3 583L815.9 582.1L819.5 582.7L823.1 578L826.7 576.7L830.3 576.7L833.9 578.5L837.5 581.2L841.1 583.4L844.7 583.4L848.3 583.9L851.9 584.5L855.6 583.4L859.2 584.5L861.9 583.9L865.5 585.7L869.1 587L872.7 588.8L876.3 590.6L879 590.6L881.7 588.1L885.3 584.8L888 583.9L891.6 584.5L895.2 586.3L898.8 588.1L901.5 588.8L904.2 587L907.8 588.8L911.4 587.5L915 586.3L919.5 587L923.1 588.1L926.7 588.8L930.3 588.1L933.9 588.4L937.5 589.9L941.1 586.3L944.7 585.2L947.4 586.3L951 585.7L953.7 585.7L957.3 588.1L960 590.4L964.4 589.1L968.7 587.6L973.1 589.1L978.5 590.4L981.8 588.3L985.1 585.4L987.2 587L990.5 584.3L993.1 583.9L996 587.6L999.2 589.8L1002.5 585.4L1005.8 584.3L1009 584.8L1013.4 583.2L1017.8 582.6L1022.1 580.4L1025.4 581.1L1029.8 580L1034.1 578.2L1037.4 578.9L1040.7 576.7L1043.4 573.9" fill="none" stroke="#f0875f" stroke-width="1.6" stroke-linejoin="round"/>
<path d="M170.3 683.3L173.8 682.8L176.7 678.5L179.8 690L185.8 690.5L189.2 700L192.3 694.8L195.2 693.6L198.2 690.5L201.2 688.8L204.3 679.9L207.3 684.5L210.4 682.8L213.8 691.4L216.7 695.7L219.8 687.6L222.7 690.2L226.2 687.1L228.8 685.9L231.8 684.5L234.8 680.2L238.2 674.2L241.6 669.9L244.2 673.4L246.8 672.5L250.2 666.5L253.7 670.4L256.2 667.7L259.7 666.8L263.1 666.5L266.6 662.2L270 659.6L274.3 657.4L278.6 655.3L282 653.9L284.6 652.7L287.2 650.2L290.3 641.6L293.2 638.1L296.6 636.4L299.2 631.2L302.7 628.7L306.1 625.2L309.5 626.6L312.1 629.2L314.7 629.9L318.1 628.7L320.7 627L323.3 621.8L325.9 616.6L329.3 613.2L333.6 611.8L337.2 614.5L340.8 619.9L344.4 617.2L348 612.7L351.6 611.8L355.2 608.2L358.8 604.6L362.4 601L365.1 600.1L367.8 601L370.5 606.4L374.1 612.2L376.8 613.6L380.4 612.7L383.1 610L385.8 602.5L388.5 602.5L392.1 604.3L395.7 606.4L398.4 608.6L401.1 606.4L403.8 606.1L407.4 602.5L411 600.1L413.8 599.2L416.5 596.5L420.1 592.9L423.7 592L426.4 590.6L429.1 592.9L432.7 594.7L436.3 596L439 597.1L442.6 595.6L447.1 595.6L450.7 596.5L454.3 598.3L457 599.6L460.6 597.1L464.2 599.2L466.9 599.6L469.6 603.7L473.2 610L475.9 609.1L479.5 611.8L482.2 612.7L486.7 609.1L490.3 609.1L493.9 609.7L497.5 614.5L500.2 618.1L502.9 619.9L506.5 622.6L509.2 620.5L512.8 621.2L515.5 619.4L519.1 616.3L522.7 614.5L525.4 613.3L529 616.3L531.7 619L534.1 623L537.1 619.4L539.8 619L543.4 615.4L547 612.2L550 610.9L554.5 609.7L559 609.1L563.5 609.1L568 610.4L571.6 614L575.2 609.1L578.8 607.3L582.4 605.5L585.1 606.1L587.8 602.8L590.5 601L593.2 602.5L596.5 605.5L600.4 607.3L604 608.6L607.6 606.4L611.2 605.5L614.8 607.3L618.4 609.1L622 610.9L625.6 611.5L629.2 610.4L632.5 611.8L635.6 623.5L639.2 623L642.8 622.6L647.3 619.9L650.9 618.7L653.6 618.7L657.7 625.3L660.8 623L664.4 620.5L667.1 618.1L669.8 620.5L673.4 622.6L677 620.5L679.3 619.9L682.4 613.3L685.1 614L688.7 613.3L691.9 610.9L695 613.3L697.7 616.3L701.3 620.5L704 618.1L706.7 617.2L710.3 620.8L713.9 624.1L717.5 626.2L721.1 628L725.6 628.9L729.2 631.3L732.8 629.8L736.4 633.1L740 637.4L743.6 640.3L747.2 639.2L750.8 637.9L753.5 639.8L756.2 634.9L758.9 635.2L762.5 630.7L766.1 629.8L768.8 628.9L772.7 624.4L774.5 621.2L777.6 626.6L780.8 623L784.4 618.1L788 614L791.6 609.7L794.3 608.2L797 608.2L799.7 605.5L803.3 600.7L806 597.8L808.7 599.2L812.3 597.4L815.9 597.1L819.5 597.4L822.2 594.7L824 592.9L826.7 593.8L830.3 596L833.9 598.9L837.5 602.5L840.2 603.7L843.8 603.2L847.4 605.5L851.9 609.1L854.7 605L858.3 606.1L861.9 607.3L865.5 608.6L869.1 607.9L872.7 608.2L876.3 609.1L879 609.1L882.6 605L885.3 601.9L888 604.3L891.6 608.2L895.2 611.8L898.8 615.4L901.5 617.2L904.2 616.3L906.9 615.1L910.5 616.3L915 619.4L919.5 620.8L923.1 620.8L926.7 623L930.3 624.4L933.9 624.1L937.5 627.1L941.1 624.1L943.8 621.2L947.4 624.4L951 623.5L954.6 622.3L958.2 619.9L960 617.5L964.4 615.9L968.7 615.3L972 617L975.3 619.7L978.5 618.8L981.8 616.6L984 612.2L987.2 610.5L990.5 605.7L993.8 600.7L996.6 604.4L999.2 605.7L1002.5 601.3L1005.8 602.9L1010.1 602.9L1014.5 600.7L1017.8 599.2L1021.5 594.8L1025 599.2L1028.7 597L1033 594.8L1036.3 596.3L1038.9 597.9L1043.4 595.7L1043.4 624.7L1038.9 627.5L1036.3 626.2L1033 623.1L1028.7 626.2L1025 626.2L1021.5 622.5L1017.8 626.8L1014.5 629L1010.1 631.9L1006.9 631.2L1003.6 627.9L1000.3 631.2L996 625.8L993.1 622.5L989.4 626.8L986.2 631.9L984 633.4L980.7 639.9L977.4 642.1L973.1 639.9L969.8 638.4L966.5 638.4L963.3 641.4L960 642.8L958.2 644.3L954.6 648.8L951 653.3L948.3 655.1L943.8 651.8L941.1 653.3L938.4 656.5L935.7 653.3L932.1 649.7L929.4 648.8L925.8 643.9L922.2 645.7L919.5 646.1L915 641.6L911.4 641.6L907.8 637.9L904.2 633.1L901.5 633.8L898.8 631.3L895.2 627.1L891.6 624.1L888 621.2L885.3 620.5L882.6 622.3L879.9 627.1L877.2 629.5L874.5 626.6L872.7 627.7L869.1 627.7L865.5 628L861.9 628.9L858.3 632L854.7 632.5L851.9 636.1L849.2 635.2L845.6 632.5L843.8 633.4L840.2 634.3L836.6 633.8L833.9 627.1L830.3 622.3L826.7 622.3L823.1 622.6L820.4 625.3L816.8 623.5L814.1 625.3L811.4 623.5L808.7 627.7L806 628L803.3 631.3L799.7 635.2L797 637.9L794.3 639.2L791.6 640.7L788 645.2L784.4 651.5L780.8 657.8L777.6 663.7L774.5 660.8L772.7 662.6L768.8 664.1L765.2 666.2L762.5 663.7L758.9 670.9L756.2 672.7L753.5 676.7L750.8 670.9L747.2 672.7L744.5 674L740.9 672.7L738.2 670.9L734.6 674L731.9 671.3L728.3 674L725.6 674.9L722 677L719.3 675.2L716.6 678.1L713 676.3L710.3 674.9L707.6 671.3L704.9 669.1L701.3 669.8L697.7 662.6L694.1 660.5L691.4 661.9L687.8 659.6L685.1 660.5L682.4 659.6L678.8 664.4L676.1 662.3L673.4 663.7L669.8 658.3L667.1 655.4L664.4 657.8L661.7 660.8L658.1 665L655.4 664.1L651.8 666.8L648.7 669.1L645.5 667.3L641.9 664.6L639.2 665.5L635.6 665L633.2 656.9L631 654.2L627.4 655.4L624.2 657.8L621.1 655.1L617.5 651.5L613.9 648.8L610.3 648.8L607.6 650L604 648.8L600.4 645.2L596.8 642.1L593.2 638.5L590.5 637L587.8 638.5L584.2 642.5L580.6 645.7L577.9 647L575.2 650.6L571.6 656L568.9 653.6L565.3 650.6L561.7 649.3L557.2 650.6L553.6 654.7L550 659.6L547.9 658.7L545.2 660.5L541.6 662.3L538.9 661.4L535.3 658.7L531.7 653.6L528.1 647.9L526 646.1L522.7 647.9L519.1 648.8L516.4 651.5L512.8 652.4L509.2 650.6L505.6 647.5L501.1 644.3L497.5 641L493.9 637.4L491.2 639.2L488.5 642.1L484.9 646.4L482.2 648.8L478.6 648.2L475.9 650L472.3 652.4L469.6 647L466 640.7L463.3 644.6L459.7 642.5L457 643.4L454.3 640.7L451.6 642.8L448.9 644.3L445.3 643.4L442.6 641L439 639.8L435.4 637.4L431.8 633.4L429.1 630.7L426.4 630.7L423.7 632.5L420.1 633.1L416.5 633.4L413.8 639.2L411 640.7L407.4 644.6L404.7 641.6L402 643.4L399.3 646.1L396.6 650.6L393 650L389.4 654.2L385.8 660.5L383.1 666.2L380.4 667.3L376.8 668.6L374.1 671.3L370.5 666.8L367.8 663.7L365.1 664.6L361.5 665.5L357.9 671.6L353.4 669.1L349.8 668.6L347.1 669.8L343.5 671.6L339.9 670.4L336.3 668.6L333.6 663.7L331.8 665.9L330 669.5L328.4 670.8L325 674.2L321.6 675.9L318.1 675.1L315.5 674.6L313 672.8L309.5 671.3L306.1 672.5L302.7 675.1L299.2 676.8L295.8 681.1L292.3 680.2L289.8 682L286.3 688.8L283.4 686.2L280.3 685.4L276.9 685.4L273.4 687.1L270 689.3L266.6 693.1L263.1 696.6L259.7 696.9L257.1 696.2L253.7 695.2L250.2 691.4L247.7 696.2L244.2 694.8L241.6 693.1L238.2 691.4L235.6 700L232.2 710.3L229.6 716.3L226.2 716.3L222.7 716.8L219.8 717.2L216.7 721.5L213.8 712L210.4 712L207.3 712.4L204.3 711.2L201.2 710.3L198.2 710.3L195.2 711.7L192.3 712.4L189.2 710L185.8 704.3L179.8 703.4L176.7 696.6L173.8 699.1L170.3 699.1Z" fill="#8da0cb" fill-opacity="0.2"/>
<path d="M170.3 683.3L173.8 682.8L176.7 678.5L179.8 690L185.8 690.5L189.2 700L192.3 694.8L195.2 693.6L198.2 690.5L201.2 688.8L204.3 679.9L207.3 684.5L210.4 682.8L213.8 691.4L216.7 695.7L219.8 687.6L222.7 690.2L226.2 687.1L228.8 685.9L231.8 684.5L234.8 680.2L238.2 674.2L241.6 669.9L244.2 673.4L246.8 672.5L250.2 666.5L253.7 670.4L256.2 667.7L259.7 666.8L263.1 666.5L266.6 662.2L270 659.6L274.3 657.4L278.6 655.3L282 653.9L284.6 652.7L287.2 650.2L290.3 641.6L293.2 638.1L296.6 636.4L299.2 631.2L302.7 628.7L306.1 625.2L309.5 626.6L312.1 629.2L314.7 629.9L318.1 628.7L320.7 627L323.3 621.8L325.9 616.6L329.3 613.2L333.6 611.8L337.2 614.5L340.8 619.9L344.4 617.2L348 612.7L351.6 611.8L355.2 608.2L358.8 604.6L362.4 601L365.1 600.1L367.8 601L370.5 606.4L374.1 612.2L376.8 613.6L380.4 612.7L383.1 610L385.8 602.5L388.5 602.5L392.1 604.3L395.7 606.4L398.4 608.6L401.1 606.4L403.8 606.1L407.4 602.5L411 600.1L413.8 599.2L416.5 596.5L420.1 592.9L423.7 592L426.4 590.6L429.1 592.9L432.7 594.7L436.3 596L439 597.1L442.6 595.6L447.1 595.6L450.7 596.5L454.3 598.3L457 599.6L460.6 597.1L464.2 599.2L466.9 599.6L469.6 603.7L473.2 610L475.9 609.1L479.5 611.8L482.2 612.7L486.7 609.1L490.3 609.1L493.9 609.7L497.5 614.5L500.2 618.1L502.9 619.9L506.5 622.6L509.2 620.5L512.8 621.2L515.5 619.4L519.1 616.3L522.7 614.5L525.4 613.3L529 616.3L531.7 619L534.1 623L537.1 619.4L539.8 619L543.4 615.4L547 612.2L550 610.9L554.5 609.7L559 609.1L563.5 609.1L568 610.4L571.6 614L575.2 609.1L578.8 607.3L582.4 605.5L585.1 606.1L587.8 602.8L590.5 601L593.2 602.5L596.5 605.5L600.4 607.3L604 608.6L607.6 606.4L611.2 605.5L614.8 607.3L618.4 609.1L622 610.9L625.6 611.5L629.2 610.4L632.5 611.8L635.6 623.5L639.2 623L642.8 622.6L647.3 619.9L650.9 618.7L653.6 618.7L657.7 625.3L660.8 623L664.4 620.5L667.1 618.1L669.8 620.5L673.4 622.6L677 620.5L679.3 619.9L682.4 613.3L685.1 614L688.7 613.3L691.9 610.9L695 613.3L697.7 616.3L701.3 620.5L704 618.1L706.7 617.2L710.3 620.8L713.9 624.1L717.5 626.2L721.1 628L725.6 628.9L729.2 631.3L732.8 629.8L736.4 633.1L740 637.4L743.6 640.3L747.2 639.2L750.8 637.9L753.5 639.8L756.2 634.9L758.9 635.2L762.5 630.7L766.1 629.8L768.8 628.9L772.7 624.4L774.5 621.2L777.6 626.6L780.8 623L784.4 618.1L788 614L791.6 609.7L794.3 608.2L797 608.2L799.7 605.5L803.3 600.7L806 597.8L808.7 599.2L812.3 597.4L815.9 597.1L819.5 597.4L822.2 594.7L824 592.9L826.7 593.8L830.3 596L833.9 598.9L837.5 602.5L840.2 603.7L843.8 603.2L847.4 605.5L851.9 609.1L854.7 605L858.3 606.1L861.9 607.3L865.5 608.6L869.1 607.9L872.7 608.2L876.3 609.1L879 609.1L882.6 605L885.3 601.9L888 604.3L891.6 608.2L895.2 611.8L898.8 615.4L901.5 617.2L904.2 616.3L906.9 615.1L910.5 616.3L915 619.4L919.5 620.8L923.1 620.8L926.7 623L930.3 624.4L933.9 624.1L937.5 627.1L941.1 624.1L943.8 621.2L947.4 624.4L951 623.5L954.6 622.3L958.2 619.9L960 617.5L964.4 615.9L968.7 615.3L972 617L975.3 619.7L978.5 618.8L981.8 616.6L984 612.2L987.2 610.5L990.5 605.7L993.8 600.7L996.6 604.4L999.2 605.7L1002.5 601.3L1005.8 602.9L1010.1 602.9L1014.5 600.7L1017.8 599.2L1021.5 594.8L1025 599.2L1028.7 597L1033 594.8L1036.3 596.3L1038.9 597.9L1043.4 595.7" fill="none" stroke="#8596c2" stroke-width="1.6" stroke-linejoin="round"/>
<path d="M170.3 699.1L173.8 699.1L176.7 696.6L179.8 703.4L185.8 704.3L189.2 710L192.3 712.4L195.2 711.7L198.2 710.3L201.2 710.3L204.3 711.2L207.3 712.4L210.4 712L213.8 712L216.7 721.5L219.8 717.2L222.7 716.8L226.2 716.3L229.6 716.3L232.2 710.3L235.6 700L238.2 691.4L241.6 693.1L244.2 694.8L247.7 696.2L250.2 691.4L253.7 695.2L257.1 696.2L259.7 696.9L263.1 696.6L266.6 693.1L270 689.3L273.4 687.1L276.9 685.4L280.3 685.4L283.4 686.2L286.3 688.8L289.8 682L292.3 680.2L295.8 681.1L299.2 676.8L302.7 675.1L306.1 672.5L309.5 671.3L313 672.8L315.5 674.6L318.1 675.1L321.6 675.9L325 674.2L328.4 670.8L330 669.5L331.8 665.9L333.6 663.7L336.3 668.6L339.9 670.4L343.5 671.6L347.1 669.8L349.8 668.6L353.4 669.1L357.9 671.6L361.5 665.5L365.1 664.6L367.8 663.7L370.5 666.8L374.1 671.3L376.8 668.6L380.4 667.3L383.1 666.2L385.8 660.5L389.4 654.2L393 650L396.6 650.6L399.3 646.1L402 643.4L404.7 641.6L407.4 644.6L411 640.7L413.8 639.2L416.5 633.4L420.1 633.1L423.7 632.5L426.4 630.7L429.1 630.7L431.8 633.4L435.4 637.4L439 639.8L442.6 641L445.3 643.4L448.9 644.3L451.6 642.8L454.3 640.7L457 643.4L459.7 642.5L463.3 644.6L466 640.7L469.6 647L472.3 652.4L475.9 650L478.6 648.2L482.2 648.8L484.9 646.4L488.5 642.1L491.2 639.2L493.9 637.4L497.5 641L501.1 644.3L505.6 647.5L509.2 650.6L512.8 652.4L516.4 651.5L519.1 648.8L522.7 647.9L526 646.1L528.1 647.9L531.7 653.6L535.3 658.7L538.9 661.4L541.6 662.3L545.2 660.5L547.9 658.7L550 659.6L553.6 654.7L557.2 650.6L561.7 649.3L565.3 650.6L568.9 653.6L571.6 656L575.2 650.6L577.9 647L580.6 645.7L584.2 642.5L587.8 638.5L590.5 637L593.2 638.5L596.8 642.1L600.4 645.2L604 648.8L607.6 650L610.3 648.8L613.9 648.8L617.5 651.5L621.1 655.1L624.2 657.8L627.4 655.4L631 654.2L633.2 656.9L635.6 665L639.2 665.5L641.9 664.6L645.5 667.3L648.7 669.1L651.8 666.8L655.4 664.1L658.1 665L661.7 660.8L664.4 657.8L667.1 655.4L669.8 658.3L673.4 663.7L676.1 662.3L678.8 664.4L682.4 659.6L685.1 660.5L687.8 659.6L691.4 661.9L694.1 660.5L697.7 662.6L701.3 669.8L704.9 669.1L707.6 671.3L710.3 674.9L713 676.3L716.6 678.1L719.3 675.2L722 677L725.6 674.9L728.3 674L731.9 671.3L734.6 674L738.2 670.9L740.9 672.7L744.5 674L747.2 672.7L750.8 670.9L753.5 676.7L756.2 672.7L758.9 670.9L762.5 663.7L765.2 666.2L768.8 664.1L772.7 662.6L774.5 660.8L777.6 663.7L780.8 657.8L784.4 651.5L788 645.2L791.6 640.7L794.3 639.2L797 637.9L799.7 635.2L803.3 631.3L806 628L808.7 627.7L811.4 623.5L814.1 625.3L816.8 623.5L820.4 625.3L823.1 622.6L826.7 622.3L830.3 622.3L833.9 627.1L836.6 633.8L840.2 634.3L843.8 633.4L845.6 632.5L849.2 635.2L851.9 636.1L854.7 632.5L858.3 632L861.9 628.9L865.5 628L869.1 627.7L872.7 627.7L874.5 626.6L877.2 629.5L879.9 627.1L882.6 622.3L885.3 620.5L888 621.2L891.6 624.1L895.2 627.1L898.8 631.3L901.5 633.8L904.2 633.1L907.8 637.9L911.4 641.6L915 641.6L919.5 646.1L922.2 645.7L925.8 643.9L929.4 648.8L932.1 649.7L935.7 653.3L938.4 656.5L941.1 653.3L943.8 651.8L948.3 655.1L951 653.3L954.6 648.8L958.2 644.3L960 642.8L963.3 641.4L966.5 638.4L969.8 638.4L973.1 639.9L977.4 642.1L980.7 639.9L984 633.4L986.2 631.9L989.4 626.8L993.1 622.5L996 625.8L1000.3 631.2L1003.6 627.9L1006.9 631.2L1010.1 631.9L1014.5 629L1017.8 626.8L1021.5 622.5L1025 626.2L1028.7 626.2L1033 623.1L1036.3 626.2L1038.9 627.5L1043.4 624.7L1043.4 654.5L1039.6 656.7L1036.3 654.1L1033.7 651.9L1030.8 654.1L1028 657.4L1025 655.8L1021.5 650.8L1017.8 653L1013.4 655.8L1010.1 655.2L1006.9 652.3L1003.2 650.8L999.7 652.3L996 649.3L993.1 644.9L990.5 647.6L987.2 655.2L984.4 658.5L981.8 663.2L978.5 664.6L975.3 665L972 663.2L968.7 662.4L965.4 665L963.3 668.3L960 668.9L958.2 671.3L954.6 674L951 677L947.4 678.5L943.8 677L941.1 676.3L937.5 680.3L933.9 676.3L930.3 673.1L926.7 670.4L923.1 669.5L919.5 667.3L915 666.8L911.4 668.6L907.8 665.9L904.2 661.9L901.5 662.6L898.8 660.1L895.2 656L891.6 651.5L888 648.8L885.3 649.3L882.6 651.5L879 654.7L876.3 655.1L872.7 653.3L869.1 650.6L865.5 647.9L861.9 646.1L859.2 647L855.6 648.8L851.9 652.4L849.2 650.6L845.6 647.5L842.9 650.6L840.2 651.5L836.6 648.8L833 643.9L829.4 640.7L825.8 640.7L823.1 641.6L819.5 643.4L816.8 644.6L814.1 643.9L811.4 645.2L808.7 649.7L806 651.5L802.4 656L798.8 659.6L795.2 662.3L791.6 665L788 669.1L784.4 674L780.8 679.9L777.2 686L774.5 684.8L772.7 688.4L768.8 690.7L766.1 692L762.5 691.1L758.9 693.8L756.2 692L753.5 696.1L750.8 690.2L748.1 687.5L744.5 688.4L740.9 686L738.2 684.8L735.5 686L731.9 684.2L729.2 684.8L725.6 684.2L722.9 686L720.2 688.9L716.6 688.9L713 689.3L710.3 692L707.6 687.8L704.9 688.9L701.3 690.2L697.7 683.5L694.1 684.2L691.4 686L688.7 685.3L686 687.1L682.4 688.9L678.8 692L676.1 688.9L673.4 690.2L669.8 685.7L667.1 684.2L663.5 683.5L659 686.6L655.4 689.3L651.8 692.9L648.7 696.5L645.5 697.4L641.9 698.3L639.2 698.6L636.1 700.4L632.9 694.7L630.1 696.1L626.5 697.9L622.9 699.5L619.3 696.5L615.7 693.8L612.1 693.2L609.4 690.2L605.8 690.7L603.7 687.5L600.4 683.5L596.8 679.9L593.2 676.3L589.6 673.4L586 675.8L583.3 672.2L580.6 674L577.9 676.7L574.3 678.5L570.7 681.7L568 680.6L564.4 678.1L560.8 678.1L557.2 678.8L553.6 682.1L550 684.8L547 686.6L543.4 689.3L539.8 693.8L537.1 693.2L533.5 687.5L529.6 685.3L527.2 683L524.5 683.5L520.9 683L517.3 684.2L513.7 687.1L510.1 690.2L507.4 689.6L503.8 689.3L500.2 685.7L497.5 681.2L494.3 675.2L491.2 677L487.6 680.3L484 684.8L481.3 682.1L477.7 684.2L474.1 686L471.4 686.6L467.8 684.8L464.2 682.1L460.6 679.9L457 677.6L453.9 675.8L450.7 680.3L448 678.1L444.4 680.3L440.8 681.7L437.2 679.9L433.6 677.6L430 675.2L427.3 676.3L423.7 673.1L420.1 670L417.4 673.1L413.8 676.3L410.1 678.8L407.4 680.6L403.8 682.1L401.1 684.8L398.1 684.2L394.8 680.3L392.1 678.8L388.5 684.2L384.9 688.4L381.3 691.4L377.7 695.6L374.1 699.2L370.5 697.9L367.8 694.3L365.1 693.8L361.5 696.1L357.9 697.9L354.3 697.4L350.7 698.3L347.1 701.5L344.4 699.2L340.8 698.3L337.2 696.5L333.6 693.2L329.3 694.5L327.6 694.8L324.1 693.6L320.7 693.6L317.3 694L313.8 693.1L310.4 691.4L307 690.5L303.5 691.4L300.1 692.3L296.6 696.2L294.1 694L291.5 694.5L288 697.4L284.6 699.1L281.2 698.6L277.7 700L274.3 701.7L270.9 702.6L267.4 704.8L264 706.5L260.5 707.7L257.1 706.9L253.7 705.5L250.6 704.3L247.7 709.5L245.1 709.5L241.6 707.7L238.7 704.8L235.6 708.6L232.2 713.8L229.6 717.2L226.2 716.3L222.7 716.8L219.8 717.2L216.7 721.5L213.8 712L210.4 712L207.3 712.4L204.3 711.2L201.2 710.3L198.2 710.3L195.2 711.7L192.3 712.4L189.2 710L185.8 704.3L179.8 703.4L176.7 696.6L173.8 699.1L170.3 699.1Z" fill="#e78ac3" fill-opacity="0.2"/>
<path d="M170.3 699.1L173.8 699.1L176.7 696.6L179.8 703.4L185.8 704.3L189.2 710L192.3 712.4L195.2 711.7L198.2 710.3L201.2 710.3L204.3 711.2L207.3 712.4L210.4 712L213.8 712L216.7 721.5L219.8 717.2L222.7 716.8L226.2 716.3L229.6 716.3L232.2 710.3L235.6 700L238.2 691.4L241.6 693.1L244.2 694.8L247.7 696.2L250.2 691.4L253.7 695.2L257.1 696.2L259.7 696.9L263.1 696.6L266.6 693.1L270 689.3L273.4 687.1L276.9 685.4L280.3 685.4L283.4 686.2L286.3 688.8L289.8 682L292.3 680.2L295.8 681.1L299.2 676.8L302.7 675.1L306.1 672.5L309.5 671.3L313 672.8L315.5 674.6L318.1 675.1L321.6 675.9L325 674.2L328.4 670.8L330 669.5L331.8 665.9L333.6 663.7L336.3 668.6L339.9 670.4L343.5 671.6L347.1 669.8L349.8 668.6L353.4 669.1L357.9 671.6L361.5 665.5L365.1 664.6L367.8 663.7L370.5 666.8L374.1 671.3L376.8 668.6L380.4 667.3L383.1 666.2L385.8 660.5L389.4 654.2L393 650L396.6 650.6L399.3 646.1L402 643.4L404.7 641.6L407.4 644.6L411 640.7L413.8 639.2L416.5 633.4L420.1 633.1L423.7 632.5L426.4 630.7L429.1 630.7L431.8 633.4L435.4 637.4L439 639.8L442.6 641L445.3 643.4L448.9 644.3L451.6 642.8L454.3 640.7L457 643.4L459.7 642.5L463.3 644.6L466 640.7L469.6 647L472.3 652.4L475.9 650L478.6 648.2L482.2 648.8L484.9 646.4L488.5 642.1L491.2 639.2L493.9 637.4L497.5 641L501.1 644.3L505.6 647.5L509.2 650.6L512.8 652.4L516.4 651.5L519.1 648.8L522.7 647.9L526 646.1L528.1 647.9L531.7 653.6L535.3 658.7L538.9 661.4L541.6 662.3L545.2 660.5L547.9 658.7L550 659.6L553.6 654.7L557.2 650.6L561.7 649.3L565.3 650.6L568.9 653.6L571.6 656L575.2 650.6L577.9 647L580.6 645.7L584.2 642.5L587.8 638.5L590.5 637L593.2 638.5L596.8 642.1L600.4 645.2L604 648.8L607.6 650L610.3 648.8L613.9 648.8L617.5 651.5L621.1 655.1L624.2 657.8L627.4 655.4L631 654.2L633.2 656.9L635.6 665L639.2 665.5L641.9 664.6L645.5 667.3L648.7 669.1L651.8 666.8L655.4 664.1L658.1 665L661.7 660.8L664.4 657.8L667.1 655.4L669.8 658.3L673.4 663.7L676.1 662.3L678.8 664.4L682.4 659.6L685.1 660.5L687.8 659.6L691.4 661.9L694.1 660.5L697.7 662.6L701.3 669.8L704.9 669.1L707.6 671.3L710.3 674.9L713 676.3L716.6 678.1L719.3 675.2L722 677L725.6 674.9L728.3 674L731.9 671.3L734.6 674L738.2 670.9L740.9 672.7L744.5 674L747.2 672.7L750.8 670.9L753.5 676.7L756.2 672.7L758.9 670.9L762.5 663.7L765.2 666.2L768.8 664.1L772.7 662.6L774.5 660.8L777.6 663.7L780.8 657.8L784.4 651.5L788 645.2L791.6 640.7L794.3 639.2L797 637.9L799.7 635.2L803.3 631.3L806 628L808.7 627.7L811.4 623.5L814.1 625.3L816.8 623.5L820.4 625.3L823.1 622.6L826.7 622.3L830.3 622.3L833.9 627.1L836.6 633.8L840.2 634.3L843.8 633.4L845.6 632.5L849.2 635.2L851.9 636.1L854.7 632.5L858.3 632L861.9 628.9L865.5 628L869.1 627.7L872.7 627.7L874.5 626.6L877.2 629.5L879.9 627.1L882.6 622.3L885.3 620.5L888 621.2L891.6 624.1L895.2 627.1L898.8 631.3L901.5 633.8L904.2 633.1L907.8 637.9L911.4 641.6L915 641.6L919.5 646.1L922.2 645.7L925.8 643.9L929.4 648.8L932.1 649.7L935.7 653.3L938.4 656.5L941.1 653.3L943.8 651.8L948.3 655.1L951 653.3L954.6 648.8L958.2 644.3L960 642.8L963.3 641.4L966.5 638.4L969.8 638.4L973.1 639.9L977.4 642.1L980.7 639.9L984 633.4L986.2 631.9L989.4 626.8L993.1 622.5L996 625.8L1000.3 631.2L1003.6 627.9L1006.9 631.2L1010.1 631.9L1014.5 629L1017.8 626.8L1021.5 622.5L1025 626.2L1028.7 626.2L1033 623.1L1036.3 626.2L1038.9 627.5L1043.4 624.7" fill="none" stroke="#dd84ba" stroke-width="1.6" stroke-linejoin="round"/>
<path d="M170.3 699.1L173.8 699.1L176.7 696.6L179.8 703.4L185.8 704.3L189.2 710L192.3 712.4L195.2 711.7L198.2 710.3L201.2 710.3L204.3 711.2L207.3 712.4L210.4 712L213.8 712L216.7 721.5L219.8 717.2L222.7 716.8L226.2 716.3L229.6 717.2L232.2 713.8L235.6 708.6L238.7 704.8L241.6 707.7L245.1 709.5L247.7 709.5L250.6 704.3L253.7 705.5L257.1 706.9L260.5 707.7L264 706.5L267.4 704.8L270.9 702.6L274.3 701.7L277.7 700L281.2 698.6L284.6 699.1L288 697.4L291.5 694.5L294.1 694L296.6 696.2L300.1 692.3L303.5 691.4L307 690.5L310.4 691.4L313.8 693.1L317.3 694L320.7 693.6L324.1 693.6L327.6 694.8L329.3 694.5L333.6 693.2L337.2 696.5L340.8 698.3L344.4 699.2L347.1 701.5L350.7 698.3L354.3 697.4L357.9 697.9L361.5 696.1L365.1 693.8L367.8 694.3L370.5 697.9L374.1 699.2L377.7 695.6L381.3 691.4L384.9 688.4L388.5 684.2L392.1 678.8L394.8 680.3L398.1 684.2L401.1 684.8L403.8 682.1L407.4 680.6L410.1 678.8L413.8 676.3L417.4 673.1L420.1 670L423.7 673.1L427.3 676.3L430 675.2L433.6 677.6L437.2 679.9L440.8 681.7L444.4 680.3L448 678.1L450.7 680.3L453.9 675.8L457 677.6L460.6 679.9L464.2 682.1L467.8 684.8L471.4 686.6L474.1 686L477.7 684.2L481.3 682.1L484 684.8L487.6 680.3L491.2 677L494.3 675.2L497.5 681.2L500.2 685.7L503.8 689.3L507.4 689.6L510.1 690.2L513.7 687.1L517.3 684.2L520.9 683L524.5 683.5L527.2 683L529.6 685.3L533.5 687.5L537.1 693.2L539.8 693.8L543.4 689.3L547 686.6L550 684.8L553.6 682.1L557.2 678.8L560.8 678.1L564.4 678.1L568 680.6L570.7 681.7L574.3 678.5L577.9 676.7L580.6 674L583.3 672.2L586 675.8L589.6 673.4L593.2 676.3L596.8 679.9L600.4 683.5L603.7 687.5L605.8 690.7L609.4 690.2L612.1 693.2L615.7 693.8L619.3 696.5L622.9 699.5L626.5 697.9L630.1 696.1L632.9 694.7L636.1 700.4L639.2 698.6L641.9 698.3L645.5 697.4L648.7 696.5L651.8 692.9L655.4 689.3L659 686.6L663.5 683.5L667.1 684.2L669.8 685.7L673.4 690.2L676.1 688.9L678.8 692L682.4 688.9L686 687.1L688.7 685.3L691.4 686L694.1 684.2L697.7 683.5L701.3 690.2L704.9 688.9L707.6 687.8L710.3 692L713 689.3L716.6 688.9L720.2 688.9L722.9 686L725.6 684.2L729.2 684.8L731.9 684.2L735.5 686L738.2 684.8L740.9 686L744.5 688.4L748.1 687.5L750.8 690.2L753.5 696.1L756.2 692L758.9 693.8L762.5 691.1L766.1 692L768.8 690.7L772.7 688.4L774.5 684.8L777.2 686L780.8 679.9L784.4 674L788 669.1L791.6 665L795.2 662.3L798.8 659.6L802.4 656L806 651.5L808.7 649.7L811.4 645.2L814.1 643.9L816.8 644.6L819.5 643.4L823.1 641.6L825.8 640.7L829.4 640.7L833 643.9L836.6 648.8L840.2 651.5L842.9 650.6L845.6 647.5L849.2 650.6L851.9 652.4L855.6 648.8L859.2 647L861.9 646.1L865.5 647.9L869.1 650.6L872.7 653.3L876.3 655.1L879 654.7L882.6 651.5L885.3 649.3L888 648.8L891.6 651.5L895.2 656L898.8 660.1L901.5 662.6L904.2 661.9L907.8 665.9L911.4 668.6L915 666.8L919.5 667.3L923.1 669.5L926.7 670.4L930.3 673.1L933.9 676.3L937.5 680.3L941.1 676.3L943.8 677L947.4 678.5L951 677L954.6 674L958.2 671.3L960 668.9L963.3 668.3L965.4 665L968.7 662.4L972 663.2L975.3 665L978.5 664.6L981.8 663.2L984.4 658.5L987.2 655.2L990.5 647.6L993.1 644.9L996 649.3L999.7 652.3L1003.2 650.8L1006.9 652.3L1010.1 655.2L1013.4 655.8L1017.8 653L1021.5 650.8L1025 655.8L1028 657.4L1030.8 654.1L1033.7 651.9L1036.3 654.1L1039.6 656.7L1043.4 654.5L1043.4 694.9L1037 695.5L1031.2 697.8L1026.9 696.4L1021.1 692L1016.8 692L1012.4 693.5L1006.6 692L1000.9 693.5L996.5 687.7L990.7 688.6L985 692L979.2 697.2L973.4 699.3L967.6 701.3L961.8 702.1L956.1 703.6L950.3 707.9L944.5 706.5L938.7 708.8L931.5 700.7L925.7 696.4L919.9 693.5L914.1 695.5L908.4 699.3L902.6 697.8L896.8 692L891 686.8L886.7 685.7L880.9 689.7L876.6 690.6L870.8 685.7L866.4 687.7L860.7 680.5L856.3 679L850.5 689.1L846.2 684.8L841.9 687.7L837.5 692.6L831.8 689.1L827.4 692.6L821.6 691.5L817.3 687.7L811.5 690.6L805.7 694.9L800 702.1L794.2 704.2L788.4 707.1L782.6 710L776.8 713.7L772.5 718L769 722.4L763.8 718L758 715.2L752.3 711.7L746.5 707.1L740.7 702.1L736.4 704.2L730.6 702.1L724.8 702.1L719 705L713.2 706.5L707.5 707.9L701.7 712.3L697.3 710.8L691.6 712.3L685.8 714.6L678.8 715.4L674.5 717.7L670.3 716.2L664.7 717.7L659.1 718.2L653.4 717.7L647.8 719.1L642.2 719.6L636.6 720.5L630.9 720.5L625.3 721.9L619.7 722.4L614.1 720.5L608.4 719.9L602.8 720.5L597.2 719.1L591.6 718.2L585.9 719.1L580.3 719.9L574.7 720.5L569.1 720.5L563.4 722.4L557.8 721.9L552.2 724.1L546.6 724.7L540.9 724.1L535.3 720.5L531.1 718.5L526.9 719.1L521.2 721.3L515.6 721.9L510 722.4L504.4 720.5L500.2 716.2L495.9 713.4L491.7 714.8L487.5 719.1L481.9 719.6L476.2 717.7L470.6 714.8L465 712.9L459.4 713.4L455.2 710.1L449.5 712L445.3 711.2L439.7 710.6L434.1 710.6L428.4 712.9L422.8 711.2L417.2 710.6L411.6 713.4L405.9 716.2L400.3 717.7L396.1 714.8L390.5 712L384.8 712L379.2 713.4L373.6 718.5L368 716.2L362.3 717.7L356.7 721.3L349.7 723.3L342.7 726.9L335.6 725.2L330 722.4L327.6 724.4L324.1 725.4L320.7 725.4L317.3 724.1L313.8 722.7L310.4 720.6L307 718.9L303.5 717.5L300.1 716.8L296.6 716.3L294.1 714.1L291.5 714.6L288 715.1L284.6 715.5L281.2 715.1L277.7 715.5L274.3 716.3L270.9 717.5L267.4 718L264 720.3L260.5 722L257.1 723.7L253.7 725.4L250.6 725.8L247.7 730.1L245.9 731.1L219.8 731.1L216.7 730.9L213.8 721L210.4 721.5L207.3 721.5L204.3 721L201.2 721L198.2 721.1L195.2 721.5L192.3 721.5L189.2 720.6L185.8 718.6L179.8 717.5L176.7 713.4L173.8 714.6L170.3 715Z" fill="#a6d854" fill-opacity="0.2"/>
<path d="M170.3 699.1L173.8 699.1L176.7 696.6L179.8 703.4L185.8 704.3L189.2 710L192.3 712.4L195.2 711.7L198.2 710.3L201.2 710.3L204.3 711.2L207.3 712.4L210.4 712L213.8 712L216.7 721.5L219.8 717.2L222.7 716.8L226.2 716.3L229.6 717.2L232.2 713.8L235.6 708.6L238.7 704.8L241.6 707.7L245.1 709.5L247.7 709.5L250.6 704.3L253.7 705.5L257.1 706.9L260.5 707.7L264 706.5L267.4 704.8L270.9 702.6L274.3 701.7L277.7 700L281.2 698.6L284.6 699.1L288 697.4L291.5 694.5L294.1 694L296.6 696.2L300.1 692.3L303.5 691.4L307 690.5L310.4 691.4L313.8 693.1L317.3 694L320.7 693.6L324.1 693.6L327.6 694.8L329.3 694.5L333.6 693.2L337.2 696.5L340.8 698.3L344.4 699.2L347.1 701.5L350.7 698.3L354.3 697.4L357.9 697.9L361.5 696.1L365.1 693.8L367.8 694.3L370.5 697.9L374.1 699.2L377.7 695.6L381.3 691.4L384.9 688.4L388.5 684.2L392.1 678.8L394.8 680.3L398.1 684.2L401.1 684.8L403.8 682.1L407.4 680.6L410.1 678.8L413.8 676.3L417.4 673.1L420.1 670L423.7 673.1L427.3 676.3L430 675.2L433.6 677.6L437.2 679.9L440.8 681.7L444.4 680.3L448 678.1L450.7 680.3L453.9 675.8L457 677.6L460.6 679.9L464.2 682.1L467.8 684.8L471.4 686.6L474.1 686L477.7 684.2L481.3 682.1L484 684.8L487.6 680.3L491.2 677L494.3 675.2L497.5 681.2L500.2 685.7L503.8 689.3L507.4 689.6L510.1 690.2L513.7 687.1L517.3 684.2L520.9 683L524.5 683.5L527.2 683L529.6 685.3L533.5 687.5L537.1 693.2L539.8 693.8L543.4 689.3L547 686.6L550 684.8L553.6 682.1L557.2 678.8L560.8 678.1L564.4 678.1L568 680.6L570.7 681.7L574.3 678.5L577.9 676.7L580.6 674L583.3 672.2L586 675.8L589.6 673.4L593.2 676.3L596.8 679.9L600.4 683.5L603.7 687.5L605.8 690.7L609.4 690.2L612.1 693.2L615.7 693.8L619.3 696.5L622.9 699.5L626.5 697.9L630.1 696.1L632.9 694.7L636.1 700.4L639.2 698.6L641.9 698.3L645.5 697.4L648.7 696.5L651.8 692.9L655.4 689.3L659 686.6L663.5 683.5L667.1 684.2L669.8 685.7L673.4 690.2L676.1 688.9L678.8 692L682.4 688.9L686 687.1L688.7 685.3L691.4 686L694.1 684.2L697.7 683.5L701.3 690.2L704.9 688.9L707.6 687.8L710.3 692L713 689.3L716.6 688.9L720.2 688.9L722.9 686L725.6 684.2L729.2 684.8L731.9 684.2L735.5 686L738.2 684.8L740.9 686L744.5 688.4L748.1 687.5L750.8 690.2L753.5 696.1L756.2 692L758.9 693.8L762.5 691.1L766.1 692L768.8 690.7L772.7 688.4L774.5 684.8L777.2 686L780.8 679.9L784.4 674L788 669.1L791.6 665L795.2 662.3L798.8 659.6L802.4 656L806 651.5L808.7 649.7L811.4 645.2L814.1 643.9L816.8 644.6L819.5 643.4L823.1 641.6L825.8 640.7L829.4 640.7L833 643.9L836.6 648.8L840.2 651.5L842.9 650.6L845.6 647.5L849.2 650.6L851.9 652.4L855.6 648.8L859.2 647L861.9 646.1L865.5 647.9L869.1 650.6L872.7 653.3L876.3 655.1L879 654.7L882.6 651.5L885.3 649.3L888 648.8L891.6 651.5L895.2 656L898.8 660.1L901.5 662.6L904.2 661.9L907.8 665.9L911.4 668.6L915 666.8L919.5 667.3L923.1 669.5L926.7 670.4L930.3 673.1L933.9 676.3L937.5 680.3L941.1 676.3L943.8 677L947.4 678.5L951 677L954.6 674L958.2 671.3L960 668.9L963.3 668.3L965.4 665L968.7 662.4L972 663.2L975.3 665L978.5 664.6L981.8 663.2L984.4 658.5L987.2 655.2L990.5 647.6L993.1 644.9L996 649.3L999.7 652.3L1003.2 650.8L1006.9 652.3L1010.1 655.2L1013.4 655.8L1017.8 653L1021.5 650.8L1025 655.8L1028 657.4L1030.8 654.1L1033.7 651.9L1036.3 654.1L1039.6 656.7L1043.4 654.5" fill="none" stroke="#9fcf52" stroke-width="1.6" stroke-linejoin="round"/>
<path d="M170.3 715L173.8 714.6L176.7 713.4L179.8 717.5L185.8 718.6L189.2 720.6L192.3 721.5L195.2 721.5L198.2 721.1L201.2 721L204.3 721L207.3 721.5L210.4 721.5L213.8 721L216.7 730.9L219.8 731.1L245.9 731.1L247.7 730.1L250.6 725.8L253.7 725.4L257.1 723.7L260.5 722L264 720.3L267.4 718L270.9 717.5L274.3 716.3L277.7 715.5L281.2 715.1L284.6 715.5L288 715.1L291.5 714.6L294.1 714.1L296.6 716.3L300.1 716.8L303.5 717.5L307 718.9L310.4 720.6L313.8 722.7L317.3 724.1L320.7 725.4L324.1 725.4L327.6 724.4L330 722.4L335.6 725.2L342.7 726.9L349.7 723.3L356.7 721.3L362.3 717.7L368 716.2L373.6 718.5L379.2 713.4L384.8 712L390.5 712L396.1 714.8L400.3 717.7L405.9 716.2L411.6 713.4L417.2 710.6L422.8 711.2L428.4 712.9L434.1 710.6L439.7 710.6L445.3 711.2L449.5 712L455.2 710.1L459.4 713.4L465 712.9L470.6 714.8L476.2 717.7L481.9 719.6L487.5 719.1L491.7 714.8L495.9 713.4L500.2 716.2L504.4 720.5L510 722.4L515.6 721.9L521.2 721.3L526.9 719.1L531.1 718.5L535.3 720.5L540.9 724.1L546.6 724.7L552.2 724.1L557.8 721.9L563.4 722.4L569.1 720.5L574.7 720.5L580.3 719.9L585.9 719.1L591.6 718.2L597.2 719.1L602.8 720.5L608.4 719.9L614.1 720.5L619.7 722.4L625.3 721.9L630.9 720.5L636.6 720.5L642.2 719.6L647.8 719.1L653.4 717.7L659.1 718.2L664.7 717.7L670.3 716.2L674.5 717.7L678.8 715.4L685.8 714.6L691.6 712.3L697.3 710.8L701.7 712.3L707.5 707.9L713.2 706.5L719 705L724.8 702.1L730.6 702.1L736.4 704.2L740.7 702.1L746.5 707.1L752.3 711.7L758 715.2L763.8 718L769 722.4L772.5 718L776.8 713.7L782.6 710L788.4 707.1L794.2 704.2L800 702.1L805.7 694.9L811.5 690.6L817.3 687.7L821.6 691.5L827.4 692.6L831.8 689.1L837.5 692.6L841.9 687.7L846.2 684.8L850.5 689.1L856.3 679L860.7 680.5L866.4 687.7L870.8 685.7L876.6 690.6L880.9 689.7L886.7 685.7L891 686.8L896.8 692L902.6 697.8L908.4 699.3L914.1 695.5L919.9 693.5L925.7 696.4L931.5 700.7L938.7 708.8L944.5 706.5L950.3 707.9L956.1 703.6L961.8 702.1L967.6 701.3L973.4 699.3L979.2 697.2L985 692L990.7 688.6L996.5 687.7L1000.9 693.5L1006.6 692L1012.4 693.5L1016.8 692L1021.1 692L1026.9 696.4L1031.2 697.8L1037 695.5L1043.4 694.9L1043.4 731L170.3 731Z" fill="#ffd92f" fill-opacity="0.2"/>
<path d="M170.3 715L173.8 714.6L176.7 713.4L179.8 717.5L185.8 718.6L189.2 720.6L192.3 721.5L195.2 721.5L198.2 721.1L201.2 721L204.3 721L207.3 721.5L210.4 721.5L213.8 721L216.7 730.9L219.8 731.1L245.9 731.1L247.7 730.1L250.6 725.8L253.7 725.4L257.1 723.7L260.5 722L264 720.3L267.4 718L270.9 717.5L274.3 716.3L277.7 715.5L281.2 715.1L284.6 715.5L288 715.1L291.5 714.6L294.1 714.1L296.6 716.3L300.1 716.8L303.5 717.5L307 718.9L310.4 720.6L313.8 722.7L317.3 724.1L320.7 725.4L324.1 725.4L327.6 724.4L330 722.4L335.6 725.2L342.7 726.9L349.7 723.3L356.7 721.3L362.3 717.7L368 716.2L373.6 718.5L379.2 713.4L384.8 712L390.5 712L396.1 714.8L400.3 717.7L405.9 716.2L411.6 713.4L417.2 710.6L422.8 711.2L428.4 712.9L434.1 710.6L439.7 710.6L445.3 711.2L449.5 712L455.2 710.1L459.4 713.4L465 712.9L470.6 714.8L476.2 717.7L481.9 719.6L487.5 719.1L491.7 714.8L495.9 713.4L500.2 716.2L504.4 720.5L510 722.4L515.6 721.9L521.2 721.3L526.9 719.1L531.1 718.5L535.3 720.5L540.9 724.1L546.6 724.7L552.2 724.1L557.8 721.9L563.4 722.4L569.1 720.5L574.7 720.5L580.3 719.9L585.9 719.1L591.6 718.2L597.2 719.1L602.8 720.5L608.4 719.9L614.1 720.5L619.7 722.4L625.3 721.9L630.9 720.5L636.6 720.5L642.2 719.6L647.8 719.1L653.4 717.7L659.1 718.2L664.7 717.7L670.3 716.2L674.5 717.7L678.8 715.4L685.8 714.6L691.6 712.3L697.3 710.8L701.7 712.3L707.5 707.9L713.2 706.5L719 705L724.8 702.1L730.6 702.1L736.4 704.2L740.7 702.1L746.5 707.1L752.3 711.7L758 715.2L763.8 718L769 722.4L772.5 718L776.8 713.7L782.6 710L788.4 707.1L794.2 704.2L800 702.1L805.7 694.9L811.5 690.6L817.3 687.7L821.6 691.5L827.4 692.6L831.8 689.1L837.5 692.6L841.9 687.7L846.2 684.8L850.5 689.1L856.3 679L860.7 680.5L866.4 687.7L870.8 685.7L876.6 690.6L880.9 689.7L886.7 685.7L891 686.8L896.8 692L902.6 697.8L908.4 699.3L914.1 695.5L919.9 693.5L925.7 696.4L931.5 700.7L938.7 708.8L944.5 706.5L950.3 707.9L956.1 703.6L961.8 702.1L967.6 701.3L973.4 699.3L979.2 697.2L985 692L990.7 688.6L996.5 687.7L1000.9 693.5L1006.6 692L1012.4 693.5L1016.8 692L1021.1 692L1026.9 696.4L1031.2 697.8L1037 695.5L1043.4 694.9" fill="none" stroke="#f5d232" stroke-width="1.6" stroke-linejoin="round"/>
</g>
<line x1="633.2" x2="633.2" y1="547.8" y2="739.0" stroke="#000" stroke-width="1.7"/>
<line x1="917.0" x2="917.0" y1="547.8" y2="739.0" stroke="#000" stroke-width="1.7"/>
<rect x="103.7" y="547.8" width="1006.6" height="191.2" fill="none" stroke="#404040" stroke-width="1.4"/>
<path d="M139.65 739v6.9M182.82 739v6.9M225.99 739v6.9M269.16 739v6.9M312.33 739v6.9M355.5 739v6.9M398.67 739v6.9M441.84 739v6.9M485.01 739v6.9M528.18 739v6.9M571.35 739v6.9M614.52 739v6.9M657.69 739v6.9M700.86 739v6.9M744.03 739v6.9M787.2 739v6.9M830.37 739v6.9M873.54 739v6.9M916.71 739v6.9M959.88 739v6.9M1003.05 739v6.9M1046.22 739v6.9M1089.39 739v6.9M96.8 731H103.7M96.8 687.24H103.7M96.8 643.48H103.7M96.8 599.71H103.7M96.8 555.95H103.7" stroke="#2e2e2e" stroke-width="2.1" fill="none"/>
<text x="54.61" y="737" class="tk" font-size="17.8" fill="#4d4d4d" textLength="36.01" lengthAdjust="spacingAndGlyphs">0.00</text>
<text x="54.61" y="693.24" class="tk" font-size="17.8" fill="#4d4d4d" textLength="36.06" lengthAdjust="spacingAndGlyphs">0.25</text>
<text x="54.61" y="649.48" class="tk" font-size="17.8" fill="#4d4d4d" textLength="36.01" lengthAdjust="spacingAndGlyphs">0.50</text>
<text x="54.61" y="605.71" class="tk" font-size="17.8" fill="#4d4d4d" textLength="36.06" lengthAdjust="spacingAndGlyphs">0.75</text>
<text x="54.98" y="561.95" class="tk" font-size="17.8" fill="#4d4d4d" textLength="35.63" lengthAdjust="spacingAndGlyphs">1.00</text>
<text transform="translate(39.3 644.5) rotate(-90)" x="-58.44" class="bk" font-size="24.5" fill="#000" textLength="116.89" lengthAdjust="spacingAndGlyphs">proportion</text>
<text x="1.37" y="539.7" class="bk" font-size="30.4" fill="#000" textLength="19.18" lengthAdjust="spacingAndGlyphs">C</text>
</g>
<g class="tk" font-size="17.8" fill="#4d4d4d">
<text transform="translate(143.15 763.5) rotate(-30)" text-anchor="end" textLength="93.5" lengthAdjust="spacingAndGlyphs">2021-05-31</text>
<text transform="translate(186.32 763.5) rotate(-30)" text-anchor="end" textLength="93.5" lengthAdjust="spacingAndGlyphs">2021-06-14</text>
<text transform="translate(229.49 763.5) rotate(-30)" text-anchor="end" textLength="93.5" lengthAdjust="spacingAndGlyphs">2021-06-28</text>
<text transform="translate(272.66 763.5) rotate(-30)" text-anchor="end" textLength="93.5" lengthAdjust="spacingAndGlyphs">2021-07-12</text>
<text transform="translate(315.83 763.5) rotate(-30)" text-anchor="end" textLength="93.5" lengthAdjust="spacingAndGlyphs">2021-07-26</text>
<text transform="translate(359 763.5) rotate(-30)" text-anchor="end" textLength="93.5" lengthAdjust="spacingAndGlyphs">2021-08-09</text>
<text transform="translate(402.17 763.5) rotate(-30)" text-anchor="end" textLength="93.5" lengthAdjust="spacingAndGlyphs">2021-08-23</text>
<text transform="translate(445.34 763.5) rotate(-30)" text-anchor="end" textLength="93.5" lengthAdjust="spacingAndGlyphs">2021-09-06</text>
<text transform="translate(488.51 763.5) rotate(-30)" text-anchor="end" textLength="93.5" lengthAdjust="spacingAndGlyphs">2021-09-20</text>
<text transform="translate(531.68 763.5) rotate(-30)" text-anchor="end" textLength="93.5" lengthAdjust="spacingAndGlyphs">2021-10-04</text>
<text transform="translate(574.85 763.5) rotate(-30)" text-anchor="end" textLength="93.5" lengthAdjust="spacingAndGlyphs">2021-10-18</text>
<text transform="translate(618.02 763.5) rotate(-30)" text-anchor="end" textLength="93.5" lengthAdjust="spacingAndGlyphs">2021-11-01</text>
<text transform="translate(661.19 763.5) rotate(-30)" text-anchor="end" textLength="93.5" lengthAdjust="spacingAndGlyphs">2021-11-15</text>
<text transform="translate(704.36 763.5) rotate(-30)" text-anchor="end" textLength="93.5" lengthAdjust="spacingAndGlyphs">2021-11-29</text>
<text transform="translate(747.53 763.5) rotate(-30)" text-anchor="end" textLength="93.5" lengthAdjust="spacingAndGlyphs">2021-12-13</text>
<text transform="translate(790.7 763.5) rotate(-30)" text-anchor="end" textLength="93.5" lengthAdjust="spacingAndGlyphs">2021-12-27</text>
<text transform="translate(833.87 763.5) rotate(-30)" text-anchor="end" textLength="93.5" lengthAdjust="spacingAndGlyphs">2022-01-10</text>
<text transform="translate(877.04 763.5) rotate(-30)" text-anchor="end" textLength="93.5" lengthAdjust="spacingAndGlyphs">2022-01-24</text>
<text transform="translate(920.21 763.5) rotate(-30)" text-anchor="end" textLength="93.5" lengthAdjust="spacingAndGlyphs">2022-02-07</text>
<text transform="translate(963.38 763.5) rotate(-30)" text-anchor="end" textLength="93.5" lengthAdjust="spacingAndGlyphs">2022-02-21</text>
<text transform="translate(1006.55 763.5) rotate(-30)" text-anchor="end" textLength="93.5" lengthAdjust="spacingAndGlyphs">2022-03-07</text>
<text transform="translate(1049.72 763.5) rotate(-30)" text-anchor="end" textLength="93.5" lengthAdjust="spacingAndGlyphs">2022-03-21</text>
<text transform="translate(1092.89 763.5) rotate(-30)" text-anchor="end" textLength="93.5" lengthAdjust="spacingAndGlyphs">2022-04-04</text>
</g>
<text x="520.51" y="840.8" class="bk" font-size="24.5" textLength="171.91" lengthAdjust="spacingAndGlyphs">admission date</text>
<g id="legendA">
<rect x="1136.3" y="124.7" width="16.4" height="19.6" fill="#1b9e77" fill-opacity="0.1"/>
<rect x="1136.3" y="146.6" width="16.4" height="19.6" fill="#d95f02" fill-opacity="0.1"/>
<path d="M1137.3 134.6H1151.8" stroke="#1f9872" stroke-width="1.7"/><circle cx="1144.5" cy="134.6" r="2.6" fill="#1f9872"/>
<path d="M1137.3 156.5H1151.8" stroke="#d0601c" stroke-width="1.7"/><circle cx="1144.5" cy="156.5" r="2.6" fill="#d0601c"/>
<text x="1165.59" y="139.8" class="bk" font-size="18.0" textLength="42.75" lengthAdjust="spacingAndGlyphs">Delta</text>
<text x="1166.1" y="161.8" class="bk" font-size="18.0" textLength="71.96" lengthAdjust="spacingAndGlyphs">Omicron</text>
</g>
<g id="legendB">
<rect x="1137" y="372.2" width="15.6" height="19" fill="#e41a1c" fill-opacity="0.2" stroke="#c8343a" stroke-width="1.5"/>
<text x="1165.34" y="386.9" class="bk" font-size="18.0" textLength="113.86" lengthAdjust="spacingAndGlyphs">Unvaccinated</text>
<rect x="1137" y="394.5" width="15.6" height="19" fill="#377eb8" fill-opacity="0.2" stroke="#3b76ad" stroke-width="1.5"/>
<text x="1165.86" y="409" class="bk" font-size="18.0" textLength="65.59" lengthAdjust="spacingAndGlyphs">2 doses</text>
<rect x="1137" y="416.8" width="15.6" height="19" fill="#4daf4a" fill-opacity="0.2" stroke="#4ca64a" stroke-width="1.5"/>
<text x="1166.1" y="431.1" class="bk" font-size="18.0" textLength="65.35" lengthAdjust="spacingAndGlyphs">3 doses</text>
</g>
<g id="legendC">
<rect x="1137" y="597.9" width="15.6" height="19" fill="#66c2a5" fill-opacity="0.2" stroke="#66c2a5" stroke-width="1.5"/>
<text x="1165.9" y="612.6" class="bk" font-size="18.0" textLength="47.61" lengthAdjust="spacingAndGlyphs">18-34</text>
<rect x="1137" y="619.8" width="15.6" height="19" fill="#fc8d62" fill-opacity="0.2" stroke="#fc8d62" stroke-width="1.5"/>
<text x="1166.61" y="634.65" class="bk" font-size="18.0" textLength="47.23" lengthAdjust="spacingAndGlyphs">35-49</text>
<rect x="1137" y="641.7" width="15.6" height="19" fill="#8da0cb" fill-opacity="0.2" stroke="#8da0cb" stroke-width="1.5"/>
<text x="1166.57" y="656.7" class="bk" font-size="18.0" textLength="46.94" lengthAdjust="spacingAndGlyphs">50-64</text>
<rect x="1137" y="663.6" width="15.6" height="19" fill="#e78ac3" fill-opacity="0.2" stroke="#e78ac3" stroke-width="1.5"/>
<text x="1166.38" y="678.75" class="bk" font-size="18.0" textLength="47.13" lengthAdjust="spacingAndGlyphs">65-74</text>
<rect x="1137" y="685.5" width="15.6" height="19" fill="#a6d854" fill-opacity="0.2" stroke="#a6d854" stroke-width="1.5"/>
<text x="1166.33" y="700.8" class="bk" font-size="18.0" textLength="47.18" lengthAdjust="spacingAndGlyphs">75-84</text>
<rect x="1137" y="707.4" width="15.6" height="19" fill="#ffd92f" fill-opacity="0.2" stroke="#ffd92f" stroke-width="1.5"/>
<text x="1166.48" y="722.85" class="bk" font-size="18.0" textLength="32.76" lengthAdjust="spacingAndGlyphs">85+</text>
</g>
</svg>
</body></html>
